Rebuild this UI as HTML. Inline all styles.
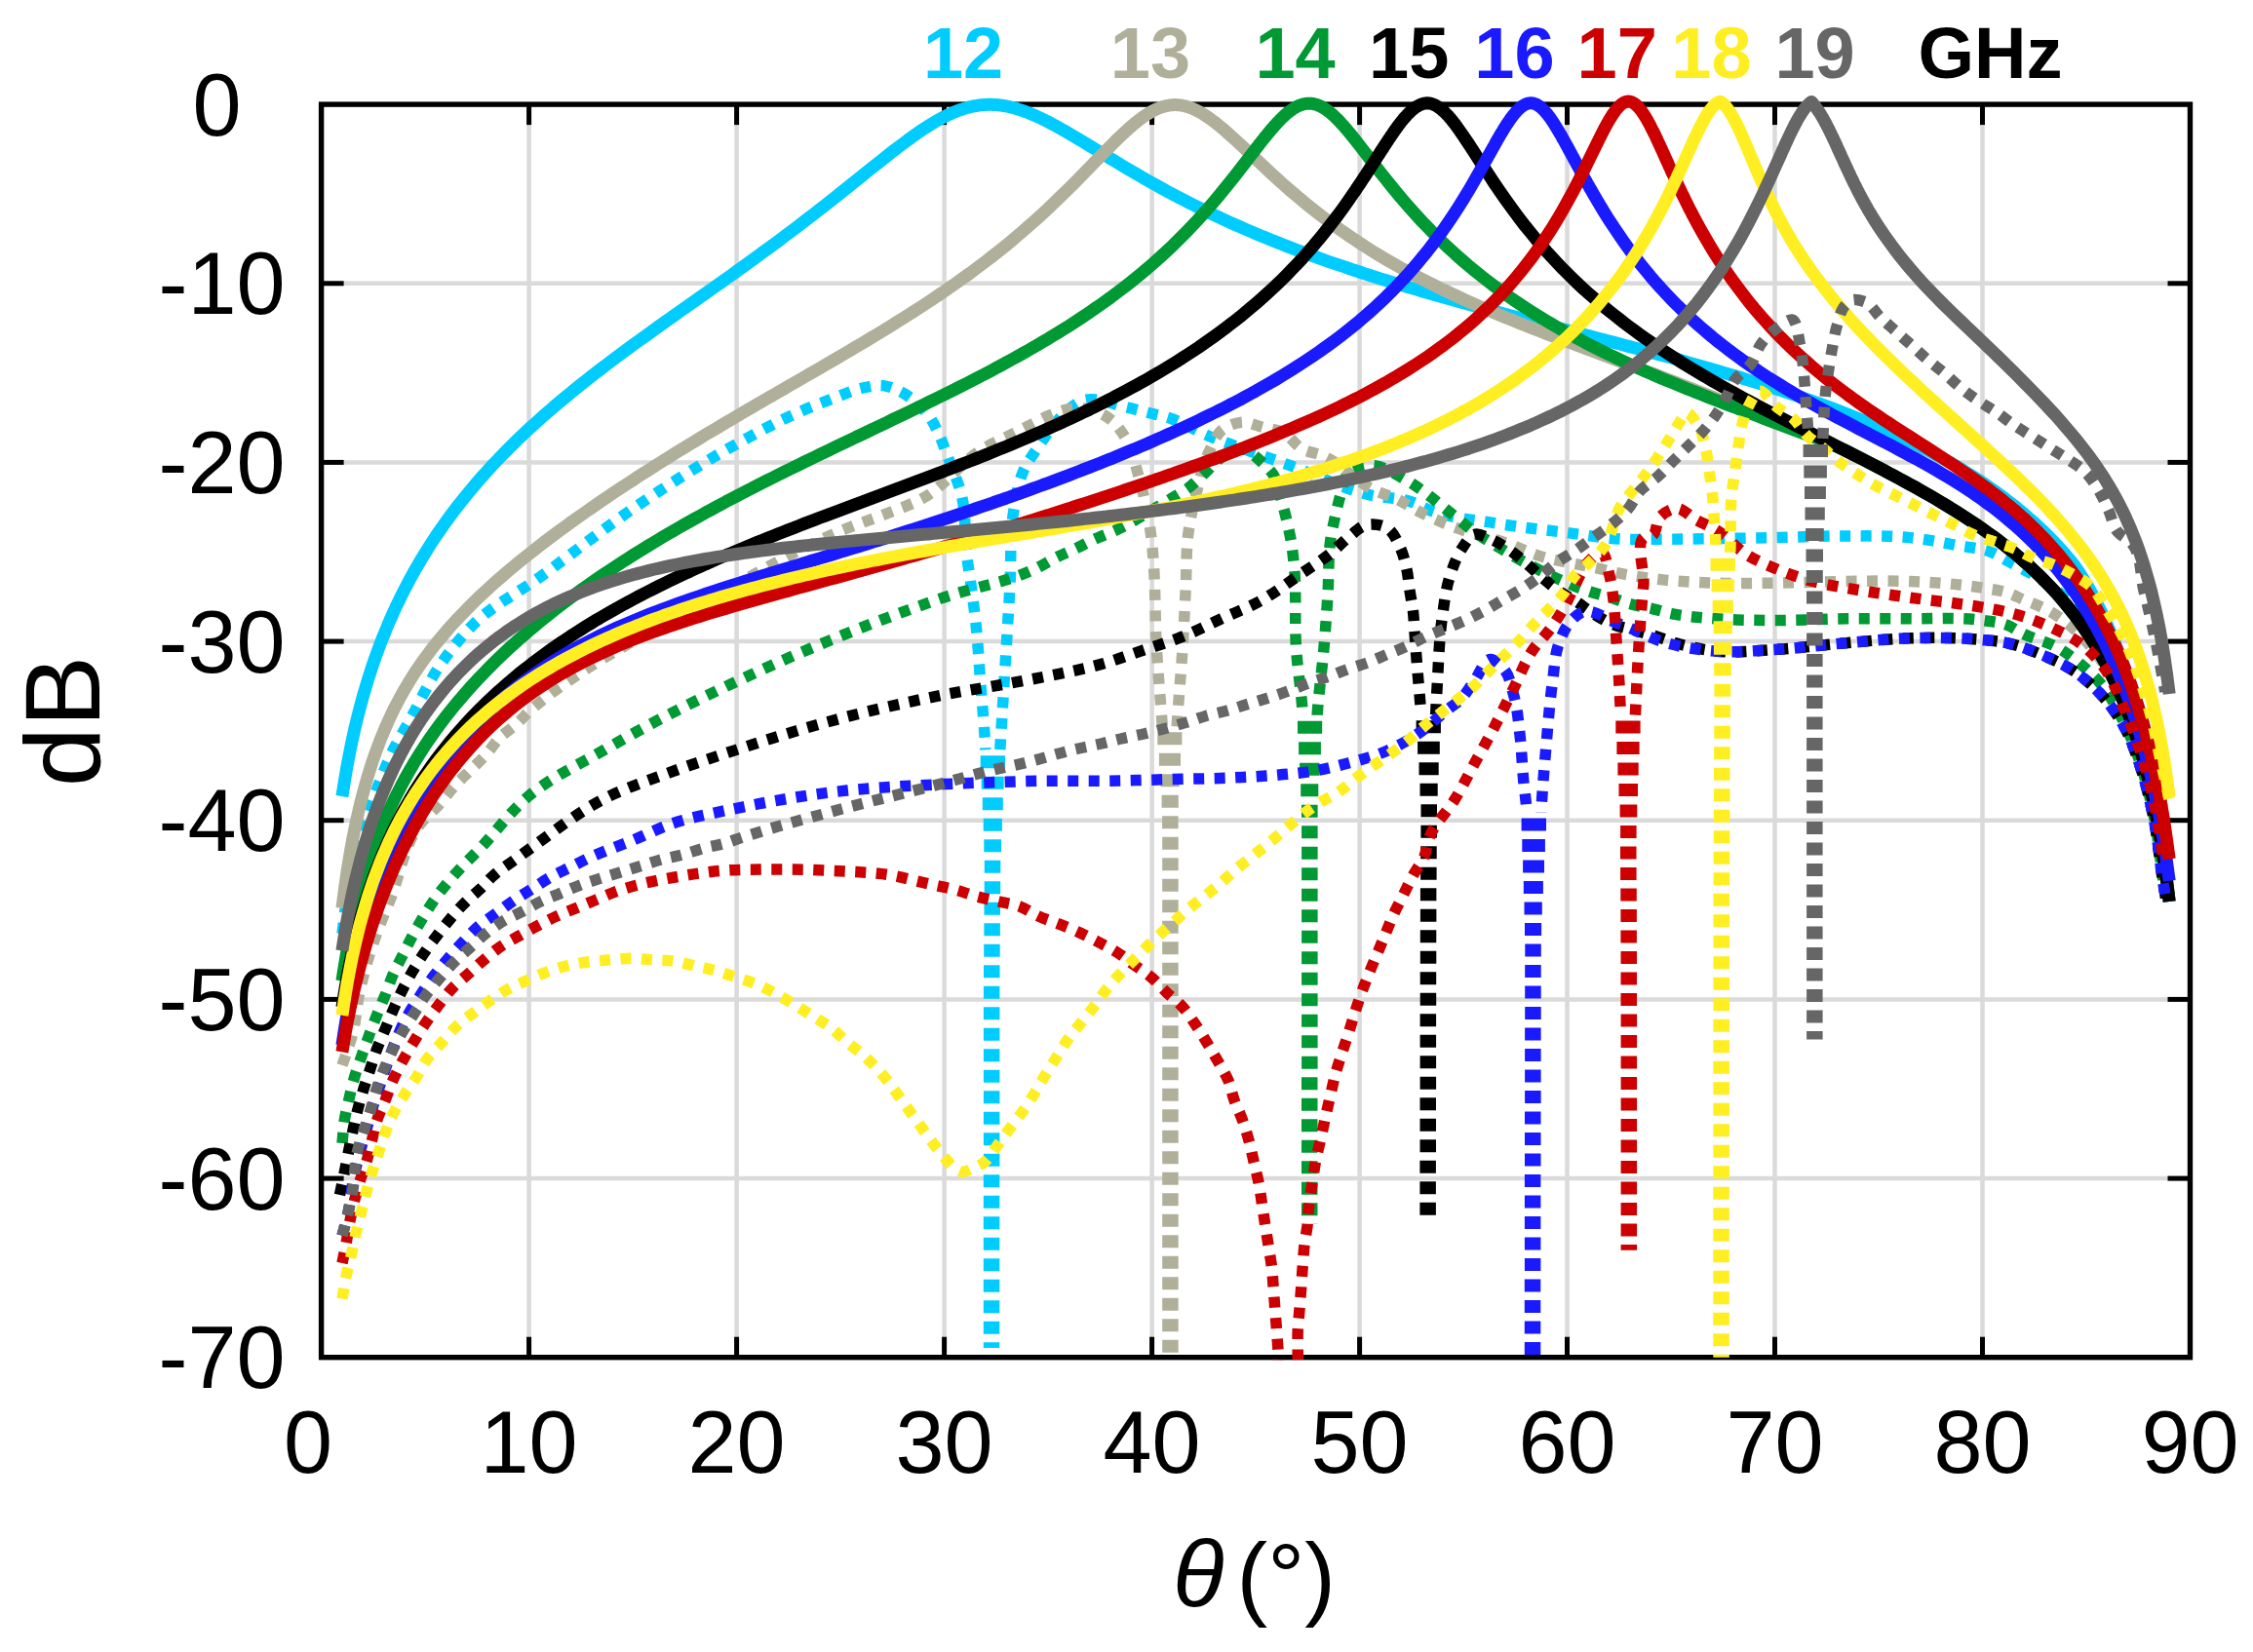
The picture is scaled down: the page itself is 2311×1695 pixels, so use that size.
<!DOCTYPE html>
<html><head><meta charset="utf-8"><title>Radiation patterns</title>
<style>html,body{margin:0;padding:0;background:#fff}svg{display:block}text{font-family:"Liberation Sans",sans-serif}</style></head><body>
<svg xmlns="http://www.w3.org/2000/svg" width="2311" height="1695" viewBox="0 0 2311 1695">
<rect width="2311" height="1695" fill="#fff"/>
<defs><clipPath id="cp"><rect x="327.6" y="95.1" width="1920.9" height="1300.1"/></clipPath></defs>
<g stroke="#dadada" stroke-width="4.5" fill="none"><line x1="542.6" y1="107.1" x2="542.6" y2="1392.7"/><line x1="755.6" y1="107.1" x2="755.6" y2="1392.7"/><line x1="968.6" y1="107.1" x2="968.6" y2="1392.7"/><line x1="1181.6" y1="107.1" x2="1181.6" y2="1392.7"/><line x1="1394.6" y1="107.1" x2="1394.6" y2="1392.7"/><line x1="1607.5" y1="107.1" x2="1607.5" y2="1392.7"/><line x1="1820.5" y1="107.1" x2="1820.5" y2="1392.7"/><line x1="2033.5" y1="107.1" x2="2033.5" y2="1392.7"/><line x1="329.6" y1="290.8" x2="2246.5" y2="290.8"/><line x1="329.6" y1="474.4" x2="2246.5" y2="474.4"/><line x1="329.6" y1="658.1" x2="2246.5" y2="658.1"/><line x1="329.6" y1="841.7" x2="2246.5" y2="841.7"/><line x1="329.6" y1="1025.4" x2="2246.5" y2="1025.4"/><line x1="329.6" y1="1209.1" x2="2246.5" y2="1209.1"/></g>
<g stroke="#000" stroke-width="5" fill="none"><line x1="542.6" y1="107.1" x2="542.6" y2="128.1"/><line x1="542.6" y1="1392.7" x2="542.6" y2="1371.7"/><line x1="755.6" y1="107.1" x2="755.6" y2="128.1"/><line x1="755.6" y1="1392.7" x2="755.6" y2="1371.7"/><line x1="968.6" y1="107.1" x2="968.6" y2="128.1"/><line x1="968.6" y1="1392.7" x2="968.6" y2="1371.7"/><line x1="1181.6" y1="107.1" x2="1181.6" y2="128.1"/><line x1="1181.6" y1="1392.7" x2="1181.6" y2="1371.7"/><line x1="1394.6" y1="107.1" x2="1394.6" y2="128.1"/><line x1="1394.6" y1="1392.7" x2="1394.6" y2="1371.7"/><line x1="1607.5" y1="107.1" x2="1607.5" y2="128.1"/><line x1="1607.5" y1="1392.7" x2="1607.5" y2="1371.7"/><line x1="1820.5" y1="107.1" x2="1820.5" y2="128.1"/><line x1="1820.5" y1="1392.7" x2="1820.5" y2="1371.7"/><line x1="2033.5" y1="107.1" x2="2033.5" y2="128.1"/><line x1="2033.5" y1="1392.7" x2="2033.5" y2="1371.7"/><line x1="329.6" y1="290.8" x2="352.6" y2="290.8"/><line x1="2246.5" y1="290.8" x2="2223.5" y2="290.8"/><line x1="329.6" y1="474.4" x2="352.6" y2="474.4"/><line x1="2246.5" y1="474.4" x2="2223.5" y2="474.4"/><line x1="329.6" y1="658.1" x2="352.6" y2="658.1"/><line x1="2246.5" y1="658.1" x2="2223.5" y2="658.1"/><line x1="329.6" y1="841.7" x2="352.6" y2="841.7"/><line x1="2246.5" y1="841.7" x2="2223.5" y2="841.7"/><line x1="329.6" y1="1025.4" x2="352.6" y2="1025.4"/><line x1="2246.5" y1="1025.4" x2="2223.5" y2="1025.4"/><line x1="329.6" y1="1209.1" x2="352.6" y2="1209.1"/><line x1="2246.5" y1="1209.1" x2="2223.5" y2="1209.1"/></g>
<rect x="329.6" y="107.1" width="1916.9" height="1285.6" fill="none" stroke="#000" stroke-width="5.4"/>
<g clip-path="url(#cp)" fill="none" stroke-linejoin="round">
<path d="M350.9 817.1 L353.6 800.2 L356.2 784.9 L358.9 771.0 L361.5 758.2 L364.2 746.3 L366.9 735.3 L369.5 724.9 L372.2 715.1 L374.9 705.9 L377.5 697.1 L380.2 688.7 L382.8 680.7 L385.5 673.1 L388.2 665.8 L390.8 658.7 L393.5 652.0 L396.2 645.4 L398.8 639.1 L401.5 633.0 L404.1 627.1 L406.8 621.3 L409.5 615.8 L412.1 610.4 L414.8 605.1 L417.5 599.9 L420.1 594.9 L422.8 590.1 L425.4 585.3 L428.1 580.7 L430.8 576.1 L433.4 571.7 L436.1 567.3 L441.4 558.9 L446.7 550.8 L452.1 543.0 L457.4 535.4 L462.7 528.2 L468.0 521.1 L473.4 514.3 L478.7 507.7 L484.0 501.3 L489.3 495.0 L494.7 488.9 L500.0 483.0 L505.3 477.2 L510.6 471.6 L516.0 466.0 L521.3 460.7 L526.6 455.4 L531.9 450.2 L537.3 445.1 L542.6 440.1 L547.9 435.3 L553.2 430.5 L558.6 425.7 L563.9 421.1 L569.2 416.5 L574.5 412.0 L579.9 407.6 L585.2 403.2 L590.5 398.9 L595.8 394.6 L601.2 390.4 L606.5 386.2 L611.8 382.0 L617.1 378.0 L622.5 373.9 L627.8 369.9 L633.1 365.9 L638.4 362.0 L643.8 358.0 L649.1 354.1 L654.4 350.3 L659.7 346.4 L665.1 342.6 L670.4 338.7 L675.7 334.9 L681.0 331.1 L686.4 327.4 L691.7 323.6 L697.0 319.8 L702.3 316.1 L707.7 312.3 L713.0 308.6 L718.3 304.8 L723.6 301.1 L729.0 297.3 L734.3 293.5 L739.6 289.8 L744.9 286.0 L750.3 282.2 L755.6 278.4 L760.9 274.6 L766.2 270.7 L771.6 266.9 L776.9 263.0 L782.2 259.1 L787.5 255.2 L792.9 251.3 L798.2 247.4 L803.5 243.4 L808.8 239.4 L814.2 235.4 L819.5 231.3 L824.8 227.3 L830.1 223.2 L835.5 219.1 L840.8 214.9 L846.1 210.8 L851.4 206.6 L856.8 202.4 L862.1 198.1 L867.4 193.9 L872.7 189.6 L878.0 185.4 L883.4 181.1 L888.7 176.8 L894.0 172.5 L899.3 168.3 L904.7 164.1 L910.0 159.9 L915.3 155.7 L920.6 151.6 L926.0 147.6 L931.3 143.6 L936.6 139.8 L941.9 136.0 L947.3 132.4 L952.6 129.0 L957.9 125.7 L963.2 122.7 L968.6 119.8 L973.9 117.2 L979.2 114.9 L984.5 112.8 L985.3 112.6 L986.4 112.2 L987.4 111.9 L988.5 111.5 L989.6 111.2 L989.9 111.1 L990.6 110.9 L991.7 110.6 L992.8 110.3 L993.8 110.0 L994.9 109.8 L995.2 109.7 L996.0 109.5 L997.0 109.3 L998.1 109.0 L999.2 108.8 L1000.2 108.6 L1000.5 108.6 L1001.3 108.5 L1002.4 108.3 L1003.4 108.1 L1004.5 108.0 L1005.5 107.9 L1005.8 107.8 L1006.6 107.7 L1007.7 107.6 L1008.7 107.5 L1009.8 107.5 L1010.9 107.4 L1011.2 107.4 L1011.9 107.4 L1013.0 107.3 L1014.1 107.3 L1015.1 107.3 L1016.2 107.3 L1016.5 107.3 L1017.3 107.3 L1018.3 107.4 L1019.4 107.4 L1020.5 107.5 L1021.5 107.5 L1021.8 107.6 L1022.6 107.6 L1023.6 107.7 L1024.7 107.8 L1025.8 107.9 L1026.8 108.1 L1027.1 108.1 L1027.9 108.2 L1029.0 108.4 L1030.0 108.6 L1031.1 108.7 L1032.2 108.9 L1032.5 109.0 L1033.2 109.2 L1034.3 109.4 L1035.4 109.6 L1036.4 109.9 L1037.5 110.1 L1037.8 110.2 L1038.6 110.4 L1039.6 110.6 L1040.7 110.9 L1041.8 111.2 L1042.8 111.5 L1043.1 111.6 L1043.9 111.9 L1044.9 112.2 L1046.0 112.5 L1047.1 112.9 L1048.1 113.2 L1048.4 113.3 L1049.2 113.6 L1050.3 114.0 L1051.3 114.4 L1052.4 114.8 L1053.5 115.2 L1053.8 115.3 L1054.5 115.6 L1055.6 116.0 L1056.7 116.5 L1057.7 116.9 L1058.8 117.3 L1059.1 117.5 L1059.9 117.8 L1060.9 118.3 L1062.0 118.7 L1063.1 119.2 L1064.1 119.7 L1064.4 119.8 L1065.2 120.2 L1066.2 120.7 L1067.3 121.2 L1068.4 121.7 L1069.4 122.2 L1069.7 122.3 L1070.5 122.7 L1071.6 123.3 L1072.6 123.8 L1073.7 124.3 L1074.8 124.9 L1075.1 125.0 L1075.8 125.4 L1076.9 126.0 L1078.0 126.5 L1079.0 127.1 L1080.1 127.7 L1080.4 127.8 L1081.2 128.2 L1082.2 128.8 L1083.3 129.4 L1084.4 130.0 L1085.4 130.6 L1085.7 130.7 L1086.5 131.2 L1087.5 131.8 L1088.6 132.4 L1089.7 133.0 L1090.7 133.6 L1091.0 133.7 L1096.4 136.8 L1101.7 140.0 L1107.0 143.1 L1112.3 146.3 L1117.7 149.6 L1123.0 152.8 L1128.3 156.1 L1133.6 159.3 L1139.0 162.6 L1144.3 165.8 L1149.6 169.0 L1154.9 172.2 L1160.3 175.3 L1165.6 178.4 L1170.9 181.5 L1176.2 184.6 L1181.6 187.6 L1186.9 190.5 L1192.2 193.5 L1197.5 196.4 L1202.9 199.2 L1208.2 202.1 L1213.5 204.8 L1218.8 207.6 L1224.2 210.3 L1229.5 212.9 L1234.8 215.5 L1240.1 218.1 L1245.5 220.7 L1250.8 223.2 L1256.1 225.6 L1261.4 228.1 L1266.8 230.5 L1272.1 232.8 L1277.4 235.1 L1282.7 237.4 L1288.1 239.7 L1293.4 241.9 L1298.7 244.1 L1304.0 246.3 L1309.4 248.4 L1314.7 250.5 L1320.0 252.6 L1325.3 254.6 L1330.7 256.7 L1336.0 258.7 L1341.3 260.6 L1346.6 262.6 L1352.0 264.5 L1357.3 266.4 L1362.6 268.3 L1367.9 270.1 L1373.3 271.9 L1378.6 273.7 L1383.9 275.5 L1389.2 277.3 L1394.6 279.0 L1399.9 280.8 L1405.2 282.5 L1410.5 284.2 L1415.8 285.9 L1421.2 287.5 L1426.5 289.2 L1431.8 290.8 L1437.1 292.4 L1442.5 294.0 L1447.8 295.6 L1453.1 297.1 L1458.4 298.7 L1463.8 300.2 L1469.1 301.8 L1474.4 303.3 L1479.7 304.8 L1485.1 306.3 L1490.4 307.8 L1495.7 309.3 L1501.0 310.7 L1506.4 312.2 L1511.7 313.7 L1517.0 315.1 L1522.3 316.6 L1527.7 318.0 L1533.0 319.4 L1538.3 320.8 L1543.6 322.2 L1549.0 323.7 L1554.3 325.1 L1559.6 326.5 L1564.9 327.9 L1570.3 329.2 L1575.6 330.6 L1580.9 332.0 L1586.2 333.4 L1591.6 334.8 L1596.9 336.2 L1602.2 337.5 L1607.5 338.9 L1612.9 340.3 L1618.2 341.7 L1623.5 343.1 L1628.8 344.4 L1634.2 345.8 L1639.5 347.2 L1644.8 348.6 L1650.1 350.0 L1655.5 351.4 L1660.8 352.8 L1666.1 354.2 L1671.4 355.6 L1676.8 357.0 L1682.1 358.4 L1687.4 359.8 L1692.7 361.2 L1698.1 362.7 L1703.4 364.1 L1708.7 365.6 L1714.0 367.0 L1719.4 368.5 L1724.7 369.9 L1730.0 371.4 L1735.3 372.9 L1740.7 374.4 L1746.0 375.9 L1751.3 377.4 L1756.6 379.0 L1762.0 380.5 L1767.3 382.1 L1772.6 383.7 L1777.9 385.2 L1783.3 386.8 L1788.6 388.5 L1793.9 390.1 L1799.2 391.7 L1804.6 393.4 L1809.9 395.1 L1815.2 396.8 L1820.5 398.5 L1825.9 400.2 L1831.2 402.0 L1836.5 403.8 L1841.8 405.6 L1847.2 407.4 L1852.5 409.3 L1857.8 411.2 L1863.1 413.1 L1868.5 415.0 L1873.8 416.9 L1879.1 418.9 L1884.4 420.9 L1889.8 423.0 L1895.1 425.0 L1900.4 427.2 L1905.7 429.3 L1911.1 431.5 L1916.4 433.7 L1921.7 435.9 L1927.0 438.2 L1932.3 440.5 L1937.7 442.9 L1943.0 445.3 L1948.3 447.8 L1953.6 450.3 L1959.0 452.9 L1964.3 455.5 L1969.6 458.1 L1974.9 460.8 L1980.3 463.6 L1985.6 466.4 L1990.9 469.3 L1996.2 472.3 L2001.6 475.3 L2006.9 478.4 L2012.2 481.6 L2017.5 484.9 L2022.9 488.2 L2028.2 491.6 L2033.5 495.1 L2038.8 498.8 L2044.2 502.5 L2049.5 506.3 L2054.8 510.2 L2060.1 514.3 L2065.5 518.4 L2070.8 522.7 L2076.1 527.2 L2081.4 531.8 L2086.8 536.5 L2092.1 541.4 L2097.4 546.5 L2102.7 551.8 L2108.1 557.3 L2113.4 563.1 L2118.7 569.1 L2124.0 575.4 L2129.4 582.5 L2134.7 590.3 L2140.0 598.9 L2142.7 603.5 L2145.3 608.3 L2148.0 613.3 L2150.7 618.5 L2153.3 623.8 L2156.0 629.4 L2158.7 635.3 L2161.3 641.2 L2164.0 647.3 L2166.6 653.6 L2169.3 660.1 L2172.0 666.7 L2174.6 673.4 L2177.3 680.1 L2180.0 686.9 L2182.6 693.9 L2185.3 701.2 L2187.9 708.9 L2190.6 716.9 L2193.3 725.3 L2195.9 734.1 L2198.6 743.4 L2201.2 753.2 L2203.9 763.6 L2206.6 774.7 L2209.2 786.5 L2211.9 799.2 L2214.6 812.8 L2217.2 827.6" stroke="#00ccff" stroke-width="13"/>
<path d="M351.0 958.0 C352.9 944.0 354.2 930.0 356.6 916.1 C360.0 897.0 364.6 878.1 369.9 859.5 C374.8 842.7 380.4 826.0 386.6 809.6 C391.7 796.1 396.9 782.6 403.2 769.6 C408.3 759.4 414.3 749.7 419.9 739.7 C431.0 719.7 440.1 698.4 453.2 679.8 C463.1 665.7 474.2 651.8 486.4 639.8 C505.7 620.9 530.9 608.5 553.0 592.7 C586.6 568.6 618.7 542.5 652.9 519.4 C685.9 497.1 719.6 475.5 754.4 456.2 C775.7 444.4 797.1 432.6 819.3 422.9 C830.3 418.1 841.4 413.8 852.6 409.6 C863.6 405.5 874.4 400.2 885.9 397.9 C892.4 396.6 899.4 394.8 905.9 395.6 C911.6 396.3 917.3 398.7 922.5 401.3 C927.2 403.5 931.7 406.4 935.8 409.6 C942.1 414.3 947.8 420.0 952.5 426.2 C957.3 432.7 960.7 440.4 964.1 447.9 C967.3 454.9 969.7 462.3 972.5 469.5 C977.0 481.6 982.5 493.6 985.8 506.1 C991.4 527.6 989.1 550.8 992.0 573.0 C993.2 582.0 994.7 591.0 996.0 600.0 C997.8 613.3 999.6 626.6 1001.0 640.0 C1003.1 659.9 1004.2 680.0 1005.7 700.0 C1007.4 722.0 1009.6 744.0 1010.7 766.0 C1010.8 767.1 1010.8 768.2 1010.9 769.2" stroke="#00ccff" stroke-width="11.5" stroke-dasharray="11 10.5"/>
<path d="M1005.7 775.2h25.3v13.0h-25.3zM1006.7 796.7h23.0v13.0h-23.0zM1007.8 818.2h21.0v13.0h-21.0zM1008.7 839.7h19.2v13.0h-19.2zM1009.3 861.2h17.7v13.0h-17.7zM1009.8 882.7h16.5v13.0h-16.5zM1009.7 904.2h16.5v13.0h-16.5zM1009.5 925.7h16.5v13.0h-16.5zM1009.4 947.2h16.5v13.0h-16.5zM1009.2 968.7h16.5v13.0h-16.5zM1009.0 990.2h16.5v13.0h-16.5zM1008.9 1011.7h16.5v13.0h-16.5zM1008.9 1033.2h16.5v13.0h-16.5zM1008.9 1054.7h16.5v13.0h-16.5zM1008.9 1076.2h16.5v13.0h-16.5zM1008.9 1097.7h16.5v13.0h-16.5zM1008.9 1119.2h16.5v13.0h-16.5zM1008.9 1140.7h16.5v13.0h-16.5zM1008.9 1162.2h16.5v13.0h-16.5zM1008.9 1183.7h16.5v13.0h-16.5zM1008.8 1205.2h16.5v13.0h-16.5zM1008.8 1226.7h16.5v13.0h-16.5zM1008.8 1248.2h16.5v13.0h-16.5zM1008.8 1269.7h16.5v13.0h-16.5zM1008.8 1291.2h16.5v13.0h-16.5zM1008.8 1312.7h16.5v13.0h-16.5zM1008.8 1334.2h16.5v13.0h-16.5zM1008.8 1355.7h16.5v13.0h-16.5zM1008.8 1377.2h16.5v5.8h-16.5z" fill="#00ccff" stroke="none"/>
<path d="M1025.8 769.2 C1027.2 746.2 1028.6 723.1 1030.0 700.0 C1032.0 666.7 1034.2 633.3 1036.0 600.0 C1037.4 574.3 1035.5 548.2 1040.0 523.0 C1042.4 509.5 1044.3 495.2 1049.9 482.8 C1054.2 473.4 1060.7 464.8 1066.6 456.2 C1072.8 447.0 1078.8 437.4 1086.6 429.5 C1093.5 422.6 1101.3 414.4 1109.9 411.2 C1123.5 406.2 1141.2 414.8 1156.6 418.2 C1163.7 419.7 1170.8 421.7 1177.9 423.5 C1185.0 425.3 1192.2 426.7 1199.2 428.8 C1213.4 433.3 1226.2 441.9 1240.1 447.5 C1247.1 450.3 1254.3 452.9 1261.4 455.5 C1282.0 463.1 1302.8 470.2 1323.5 477.7 C1350.8 487.6 1377.1 501.4 1405.2 507.9 C1419.2 511.1 1434.4 510.1 1447.9 515.0 C1454.1 517.2 1459.9 520.9 1466.0 523.3 C1487.0 531.6 1510.3 532.9 1532.6 536.6 C1557.4 540.8 1582.5 543.5 1607.5 546.6 C1626.9 549.0 1646.3 552.6 1665.8 553.3 C1674.9 553.6 1684.0 553.3 1693.2 553.3 C1735.7 553.2 1778.2 552.4 1820.7 551.6 C1844.7 551.1 1868.8 549.9 1892.9 549.9 C1915.1 550.0 1937.4 549.3 1959.5 551.6 C1976.2 553.4 1992.8 556.8 2009.4 559.9 C2020.5 562.0 2032.3 562.4 2042.7 566.6 C2049.1 569.1 2054.9 573.2 2061.1 576.5 C2071.6 582.3 2082.6 587.5 2092.6 594.0 C2102.4 600.4 2111.9 607.4 2120.7 615.1 C2129.4 622.7 2137.9 630.8 2145.3 639.6 C2153.3 649.4 2160.3 660.2 2166.3 671.2 C2173.6 684.5 2178.7 699.1 2183.9 713.3 C2189.3 728.3 2193.7 743.6 2197.9 758.9 C2202.6 776.3 2206.7 793.9 2210.2 811.6 C2214.6 833.6 2217.2 856.0 2220.7 878.2" stroke="#00ccff" stroke-width="11.5" stroke-dasharray="11 10.5"/>
<path d="M350.9 931.9 L353.6 911.3 L356.2 893.1 L358.9 876.8 L361.5 862.1 L364.2 848.7 L366.9 836.4 L369.5 825.1 L372.2 814.6 L374.9 804.8 L377.5 795.7 L380.2 787.2 L382.8 779.1 L385.5 771.5 L388.2 764.3 L390.8 757.4 L393.5 750.9 L396.2 744.7 L398.8 738.8 L401.5 733.1 L404.1 727.6 L406.8 722.4 L409.5 717.3 L412.1 712.5 L414.8 707.8 L417.5 703.2 L420.1 698.8 L422.8 694.6 L425.4 690.4 L428.1 686.4 L430.8 682.5 L433.4 678.7 L436.1 675.0 L441.4 667.8 L446.7 661.0 L452.1 654.5 L457.4 648.2 L462.7 642.1 L468.0 636.3 L473.4 630.7 L478.7 625.2 L484.0 619.9 L489.3 614.7 L494.7 609.6 L500.0 604.7 L505.3 599.8 L510.6 595.1 L516.0 590.5 L521.3 585.9 L526.6 581.5 L531.9 577.1 L537.3 572.7 L542.6 568.5 L547.9 564.3 L553.2 560.1 L558.6 556.0 L563.9 552.0 L569.2 548.0 L574.5 544.1 L579.9 540.2 L585.2 536.3 L590.5 532.5 L595.8 528.7 L601.2 525.0 L606.5 521.3 L611.8 517.6 L617.1 513.9 L622.5 510.3 L627.8 506.7 L633.1 503.2 L638.4 499.6 L643.8 496.1 L649.1 492.7 L654.4 489.2 L659.7 485.8 L665.1 482.4 L670.4 479.0 L675.7 475.6 L681.0 472.3 L686.4 468.9 L691.7 465.6 L697.0 462.3 L702.3 459.1 L707.7 455.8 L713.0 452.6 L718.3 449.4 L723.6 446.1 L729.0 442.9 L734.3 439.8 L739.6 436.6 L744.9 433.4 L750.3 430.3 L755.6 427.2 L760.9 424.0 L766.2 420.9 L771.6 417.8 L776.9 414.7 L782.2 411.6 L787.5 408.5 L792.9 405.5 L798.2 402.4 L803.5 399.3 L808.8 396.2 L814.2 393.1 L819.5 390.1 L824.8 387.0 L830.1 383.9 L835.5 380.8 L840.8 377.8 L846.1 374.7 L851.4 371.6 L856.8 368.5 L862.1 365.4 L867.4 362.2 L872.7 359.1 L878.0 355.9 L883.4 352.8 L888.7 349.6 L894.0 346.4 L899.3 343.2 L904.7 340.0 L910.0 336.7 L915.3 333.4 L920.6 330.1 L926.0 326.8 L931.3 323.4 L936.6 320.0 L941.9 316.6 L947.3 313.1 L952.6 309.6 L957.9 306.1 L963.2 302.5 L968.6 298.9 L973.9 295.2 L979.2 291.5 L984.5 287.7 L989.9 283.9 L995.2 280.1 L1000.5 276.1 L1005.8 272.1 L1011.2 268.1 L1016.5 264.0 L1021.8 259.8 L1027.1 255.6 L1032.5 251.3 L1037.8 246.9 L1043.1 242.4 L1048.4 237.9 L1053.8 233.2 L1059.1 228.5 L1064.4 223.8 L1069.7 218.9 L1075.1 214.0 L1080.4 208.9 L1085.7 203.8 L1091.0 198.6 L1096.4 193.4 L1101.7 188.1 L1107.0 182.7 L1112.3 177.3 L1117.7 171.8 L1123.0 166.3 L1126.9 162.3 L1128.0 161.2 L1128.3 160.8 L1129.0 160.1 L1130.1 159.0 L1131.2 157.9 L1132.2 156.8 L1133.3 155.7 L1133.6 155.4 L1134.4 154.6 L1135.4 153.5 L1136.5 152.5 L1137.6 151.4 L1138.6 150.3 L1139.0 150.0 L1139.7 149.2 L1140.8 148.2 L1141.8 147.1 L1142.9 146.0 L1143.9 145.0 L1144.3 144.7 L1145.0 143.9 L1146.1 142.9 L1147.1 141.9 L1148.2 140.8 L1149.3 139.8 L1149.6 139.5 L1150.3 138.8 L1151.4 137.8 L1152.5 136.8 L1153.5 135.8 L1154.6 134.8 L1154.9 134.5 L1155.7 133.8 L1156.7 132.9 L1157.8 131.9 L1158.9 131.0 L1159.9 130.0 L1160.3 129.7 L1161.0 129.1 L1162.1 128.2 L1163.1 127.3 L1164.2 126.4 L1165.2 125.5 L1165.6 125.3 L1166.3 124.7 L1167.4 123.9 L1168.4 123.0 L1169.5 122.2 L1170.6 121.4 L1170.9 121.2 L1171.6 120.6 L1172.7 119.9 L1173.8 119.2 L1174.8 118.4 L1175.9 117.7 L1176.2 117.5 L1177.0 117.0 L1178.0 116.4 L1179.1 115.7 L1180.2 115.1 L1181.2 114.5 L1181.6 114.3 L1182.3 113.9 L1183.3 113.4 L1184.4 112.9 L1185.5 112.3 L1186.5 111.9 L1186.9 111.7 L1187.6 111.4 L1188.7 111.0 L1189.7 110.6 L1190.8 110.2 L1191.9 109.8 L1192.2 109.7 L1192.9 109.5 L1194.0 109.2 L1195.1 108.9 L1196.1 108.6 L1197.2 108.4 L1197.5 108.4 L1198.3 108.2 L1199.3 108.1 L1200.4 107.9 L1201.5 107.8 L1202.5 107.7 L1202.9 107.7 L1203.6 107.6 L1204.6 107.6 L1205.7 107.6 L1206.8 107.6 L1207.8 107.7 L1208.2 107.7 L1208.9 107.8 L1210.0 107.9 L1211.0 108.0 L1212.1 108.2 L1213.2 108.4 L1213.5 108.4 L1214.2 108.6 L1215.3 108.8 L1216.4 109.1 L1217.4 109.4 L1218.5 109.7 L1218.8 109.8 L1219.6 110.0 L1220.6 110.4 L1221.7 110.8 L1222.8 111.2 L1223.8 111.7 L1224.2 111.8 L1224.9 112.1 L1225.9 112.6 L1227.0 113.1 L1228.1 113.6 L1229.1 114.2 L1229.5 114.4 L1230.2 114.8 L1231.3 115.4 L1232.3 116.0 L1234.8 117.5 L1240.1 121.0 L1245.5 124.9 L1250.8 129.2 L1256.1 133.6 L1261.4 138.3 L1266.8 143.2 L1272.1 148.1 L1277.4 153.1 L1282.7 158.1 L1288.1 163.1 L1293.4 168.1 L1298.7 173.1 L1304.0 178.0 L1309.4 182.9 L1314.7 187.7 L1320.0 192.4 L1325.3 197.0 L1330.7 201.5 L1336.0 206.0 L1341.3 210.4 L1346.6 214.6 L1352.0 218.8 L1357.3 222.9 L1362.6 226.9 L1367.9 230.8 L1373.3 234.7 L1378.6 238.4 L1383.9 242.1 L1389.2 245.7 L1394.6 249.2 L1399.9 252.7 L1405.2 256.1 L1410.5 259.4 L1415.8 262.6 L1421.2 265.8 L1426.5 268.9 L1431.8 271.9 L1437.1 274.9 L1442.5 277.8 L1447.8 280.7 L1453.1 283.6 L1458.4 286.3 L1463.8 289.1 L1469.1 291.7 L1474.4 294.4 L1479.7 297.0 L1485.1 299.5 L1490.4 302.0 L1495.7 304.5 L1501.0 307.0 L1506.4 309.4 L1511.7 311.7 L1517.0 314.1 L1522.3 316.4 L1527.7 318.7 L1533.0 320.9 L1538.3 323.2 L1543.6 325.4 L1549.0 327.6 L1554.3 329.7 L1559.6 331.9 L1564.9 334.0 L1570.3 336.1 L1575.6 338.2 L1580.9 340.3 L1586.2 342.3 L1591.6 344.4 L1596.9 346.4 L1602.2 348.5 L1607.5 350.5 L1612.9 352.5 L1618.2 354.5 L1623.5 356.5 L1628.8 358.5 L1634.2 360.5 L1639.5 362.5 L1644.8 364.5 L1650.1 366.4 L1655.5 368.4 L1660.8 370.4 L1666.1 372.4 L1671.4 374.4 L1676.8 376.4 L1682.1 378.4 L1687.4 380.4 L1692.7 382.4 L1698.1 384.4 L1703.4 386.5 L1708.7 388.5 L1714.0 390.6 L1719.4 392.6 L1724.7 394.7 L1730.0 396.8 L1735.3 398.9 L1740.7 401.0 L1746.0 403.1 L1751.3 405.3 L1756.6 407.4 L1762.0 409.6 L1767.3 411.8 L1772.6 414.0 L1777.9 416.2 L1783.3 418.5 L1788.6 420.5 L1793.9 422.5 L1799.2 424.3 L1804.6 426.1 L1809.9 427.9 L1815.2 429.6 L1820.5 431.5 L1825.9 433.3 L1831.2 435.2 L1836.5 437.1 L1841.8 439.1 L1847.2 441.1 L1852.5 443.3 L1857.8 445.5 L1863.1 447.8 L1868.5 450.2 L1873.8 452.7 L1879.1 455.3 L1884.4 458.0 L1889.8 460.7 L1895.1 463.4 L1900.4 466.1 L1905.7 468.8 L1911.1 471.5 L1916.4 474.2 L1921.7 477.0 L1927.0 479.8 L1932.3 482.6 L1937.7 485.4 L1943.0 488.2 L1948.3 491.1 L1953.6 494.0 L1959.0 496.9 L1964.3 499.8 L1969.6 502.8 L1974.9 505.9 L1980.3 508.9 L1985.6 512.0 L1990.9 515.2 L1996.2 518.4 L2001.6 521.7 L2006.9 525.0 L2012.2 528.4 L2017.5 531.9 L2022.9 535.4 L2028.2 539.0 L2033.5 542.7 L2038.8 546.5 L2044.2 550.3 L2049.5 554.3 L2054.8 558.4 L2060.1 562.6 L2065.5 566.9 L2070.8 571.4 L2076.1 576.0 L2081.4 580.7 L2086.8 585.7 L2092.1 590.8 L2097.4 596.1 L2102.7 601.6 L2108.1 607.3 L2113.4 613.3 L2118.7 619.6 L2124.0 626.2 L2129.4 633.1 L2134.7 640.3 L2140.0 648.0 L2142.7 652.0 L2145.3 656.1 L2148.0 660.3 L2150.7 664.7 L2153.3 669.2 L2156.0 673.9 L2158.7 678.7 L2161.3 683.7 L2164.0 688.8 L2166.6 694.2 L2169.3 699.7 L2172.0 705.5 L2174.6 711.5 L2177.3 717.8 L2180.0 724.3 L2182.6 731.2 L2185.3 738.3 L2187.9 745.9 L2190.6 753.8 L2193.3 762.1 L2195.9 770.9 L2198.6 780.2 L2201.2 790.2 L2203.9 800.7 L2206.6 812.0 L2209.2 824.2 L2211.9 837.3 L2214.6 851.6 L2217.2 867.2 L2219.9 884.4 L2222.5 903.5 L2225.2 925.0" stroke="#b0b09a" stroke-width="13"/>
<path d="M351.0 1093.0 C354.7 1081.9 359.1 1071.0 362.0 1059.7 C365.2 1046.7 365.8 1033.0 368.6 1019.8 C371.0 1008.6 373.7 997.5 376.9 986.5 C379.9 976.4 383.3 966.4 386.9 956.5 C391.0 945.3 395.8 934.3 400.2 923.2 C411.0 896.5 414.5 864.9 432.9 843.2 C437.8 837.3 444.2 832.3 449.5 826.6 C455.4 820.2 460.3 813.0 466.1 806.6 C471.4 800.8 477.2 795.5 482.8 789.9 C488.3 784.4 494.2 779.2 499.4 773.3 C504.1 768.0 507.8 761.6 512.7 756.7 C517.7 751.7 524.1 748.1 529.4 743.3 C534.0 739.1 538.1 734.3 542.7 730.0 C549.1 724.1 555.8 718.7 562.7 713.4 C570.2 707.5 578.1 702.1 586.0 696.7 C592.6 692.2 599.2 687.7 606.0 683.4 C611.4 680.0 617.0 676.7 622.6 673.4 C643.7 660.9 664.8 648.4 686.2 636.5 C708.7 623.9 731.7 612.1 754.4 599.9 C776.1 588.2 797.3 575.8 819.3 564.9 C834.7 557.3 850.1 549.8 865.9 543.3 C879.1 537.8 892.7 533.5 905.9 528.3 C919.3 523.0 933.2 518.4 945.8 511.7 C969.9 498.7 986.1 473.0 1010.0 459.5 C1017.5 455.2 1025.5 451.7 1033.3 447.9 C1041.1 444.0 1048.8 440.1 1056.6 436.2 C1063.2 432.9 1069.7 429.0 1076.6 426.2 C1083.0 423.6 1089.7 420.6 1096.5 419.6 C1104.5 418.4 1113.4 418.6 1121.0 420.9 C1128.0 422.9 1135.0 426.8 1140.6 431.5 C1145.9 436.1 1150.2 442.4 1153.9 448.4 C1161.4 460.5 1164.1 475.4 1168.1 489.2 C1174.4 510.9 1178.9 533.4 1181.4 555.8 C1182.2 562.9 1182.7 570.0 1183.2 577.2 C1185.4 606.7 1184.7 636.4 1186.4 666.0 C1187.7 688.4 1189.7 710.7 1191.4 733.0 C1191.7 737.1 1192.0 741.2 1192.3 745.3" stroke="#b0b09a" stroke-width="11.5" stroke-dasharray="11 10.5"/>
<path d="M1187.3 751.3h25.1v13.0h-25.1zM1188.9 772.8h22.1v13.0h-22.1zM1190.5 794.3h19.1v13.0h-19.1zM1191.6 815.8h17.2v13.0h-17.2zM1192.1 837.3h16.5v13.0h-16.5zM1192.2 858.8h16.5v13.0h-16.5zM1192.2 880.3h16.5v13.0h-16.5zM1192.2 901.8h16.5v13.0h-16.5zM1192.2 923.3h16.5v13.0h-16.5zM1192.2 944.8h16.5v13.0h-16.5zM1192.2 966.3h16.5v13.0h-16.5zM1192.2 987.8h16.5v13.0h-16.5zM1192.2 1009.3h16.5v13.0h-16.5zM1192.2 1030.8h16.5v13.0h-16.5zM1192.2 1052.3h16.5v13.0h-16.5zM1192.2 1073.8h16.5v13.0h-16.5zM1192.2 1095.3h16.5v13.0h-16.5zM1192.2 1116.8h16.5v13.0h-16.5zM1192.2 1138.3h16.5v13.0h-16.5zM1192.2 1159.8h16.5v13.0h-16.5zM1192.2 1181.3h16.5v13.0h-16.5zM1192.2 1202.8h16.5v13.0h-16.5zM1192.2 1224.3h16.5v13.0h-16.5zM1192.2 1245.8h16.5v13.0h-16.5zM1192.2 1267.3h16.5v13.0h-16.5zM1192.2 1288.8h16.5v13.0h-16.5zM1192.2 1310.3h16.5v13.0h-16.5zM1192.2 1331.8h16.5v13.0h-16.5zM1192.2 1353.3h16.5v13.0h-16.5zM1192.2 1374.8h16.5v13.0h-16.5z" fill="#b0b09a" stroke="none"/>
<path d="M1207.2 745.3 C1207.5 741.2 1207.7 737.1 1208.0 733.0 C1209.5 710.7 1211.6 688.3 1213.0 666.0 C1214.4 644.0 1215.3 622.0 1216.4 600.0 C1217.2 582.9 1216.6 565.7 1218.7 548.7 C1220.6 533.8 1223.9 518.9 1227.6 504.3 C1231.1 490.6 1233.9 476.2 1240.1 463.5 C1244.0 455.4 1247.4 445.5 1254.3 440.4 C1259.5 436.5 1267.2 433.8 1273.8 433.3 C1281.1 432.8 1288.6 436.8 1296.0 438.6 C1302.8 440.3 1310.3 440.9 1316.4 443.9 C1323.9 447.7 1328.5 456.9 1336.0 460.8 C1341.9 463.9 1349.2 464.6 1355.5 467.0 C1376.5 475.2 1391.6 495.5 1412.3 504.3 C1418.7 507.0 1425.6 508.5 1431.9 511.4 C1438.0 514.3 1443.5 518.4 1449.4 521.6 C1455.9 525.2 1462.6 528.5 1469.4 531.6 C1475.9 534.6 1482.6 537.3 1489.3 539.9 C1509.9 548.0 1532.0 551.9 1552.6 559.9 C1559.3 562.5 1565.8 565.8 1572.6 568.2 C1593.9 576.1 1617.0 578.1 1639.1 583.2 C1646.4 584.9 1653.5 586.7 1660.8 588.2 C1675.6 591.2 1690.7 593.2 1705.7 594.9 C1723.6 596.8 1741.7 597.6 1759.7 598.2 C1780.0 598.9 1800.3 598.4 1820.7 598.2 C1844.7 597.9 1868.8 596.8 1892.9 596.5 C1915.1 596.3 1937.3 595.6 1959.5 596.5 C1984.2 597.6 2009.0 599.2 2033.4 603.2 C2042.1 604.6 2051.0 605.4 2059.3 608.2 C2064.7 610.0 2069.8 612.8 2075.1 615.1 C2083.3 618.6 2091.9 621.4 2099.6 625.6 C2107.0 629.6 2114.1 634.4 2120.7 639.6 C2129.7 646.8 2137.9 655.3 2145.3 664.2 C2153.3 673.9 2160.3 684.7 2166.3 695.8 C2173.6 709.1 2178.5 723.7 2183.9 737.9 C2189.0 751.7 2193.6 765.8 2197.9 780.0 C2203.2 797.4 2208.3 814.9 2211.9 832.6 C2216.4 854.5 2217.8 877.1 2220.7 899.3" stroke="#b0b09a" stroke-width="11.5" stroke-dasharray="11 10.5"/>
<path d="M350.9 1006.5 L353.6 989.5 L356.2 974.2 L358.9 960.3 L361.5 947.6 L364.2 935.8 L366.9 925.0 L369.5 914.8 L372.2 905.2 L374.9 896.2 L377.5 887.7 L380.2 879.6 L382.8 872.0 L385.5 864.6 L388.2 857.6 L390.8 850.9 L393.5 844.4 L396.2 838.2 L398.8 832.2 L401.5 826.4 L404.1 820.8 L406.8 815.4 L409.5 810.2 L412.1 805.1 L414.8 800.1 L417.5 795.3 L420.1 790.6 L422.8 786.1 L425.4 781.6 L428.1 777.3 L430.8 773.0 L433.4 768.9 L436.1 764.8 L441.4 757.0 L446.7 749.5 L452.1 742.2 L457.4 735.2 L462.7 728.5 L468.0 722.0 L473.4 715.7 L478.7 709.6 L484.0 703.6 L489.3 697.8 L494.7 692.2 L500.0 686.7 L505.3 681.4 L510.6 676.2 L516.0 671.1 L521.3 666.1 L526.6 661.2 L531.9 656.4 L537.3 651.8 L542.6 647.2 L547.9 642.7 L553.2 638.3 L558.6 634.0 L563.9 629.7 L569.2 625.5 L574.5 621.4 L579.9 617.4 L585.2 613.4 L590.5 609.5 L595.8 605.6 L601.2 601.8 L606.5 598.0 L611.8 594.3 L617.1 590.7 L622.5 587.1 L627.8 583.6 L633.1 580.1 L638.4 576.6 L643.8 573.2 L649.1 569.8 L654.4 566.5 L659.7 563.2 L665.1 559.9 L670.4 556.7 L675.7 553.5 L681.0 550.3 L686.4 547.2 L691.7 544.1 L697.0 541.0 L702.3 538.0 L707.7 535.0 L713.0 532.0 L718.3 529.1 L723.6 526.1 L729.0 523.2 L734.3 520.3 L739.6 517.5 L744.9 514.6 L750.3 511.8 L755.6 509.0 L760.9 506.3 L766.2 503.5 L771.6 500.8 L776.9 498.0 L782.2 495.3 L787.5 492.6 L792.9 490.0 L798.2 487.3 L803.5 484.7 L808.8 482.0 L814.2 479.4 L819.5 476.8 L824.8 474.2 L830.1 471.6 L835.5 469.0 L840.8 466.4 L846.1 463.8 L851.4 461.3 L856.8 458.7 L862.1 456.2 L867.4 453.6 L872.7 451.1 L878.0 448.5 L883.4 446.0 L888.7 443.5 L894.0 440.9 L899.3 438.4 L904.7 435.8 L910.0 433.3 L915.3 430.7 L920.6 428.2 L926.0 425.6 L931.3 423.1 L936.6 420.5 L941.9 417.9 L947.3 415.3 L952.6 412.7 L957.9 410.1 L963.2 407.5 L968.6 404.9 L973.9 402.2 L979.2 399.6 L984.5 396.9 L989.9 394.2 L995.2 391.5 L1000.5 388.7 L1005.8 386.0 L1011.2 383.2 L1016.5 380.4 L1021.8 377.6 L1027.1 374.7 L1032.5 371.8 L1037.8 368.9 L1043.1 366.0 L1048.4 363.0 L1053.8 360.0 L1059.1 356.9 L1064.4 353.8 L1069.7 350.7 L1075.1 347.6 L1080.4 344.3 L1085.7 341.1 L1091.0 337.8 L1096.4 334.4 L1101.7 331.0 L1107.0 327.5 L1112.3 324.0 L1117.7 320.4 L1123.0 316.7 L1128.3 313.0 L1133.6 309.2 L1139.0 305.4 L1144.3 301.4 L1149.6 297.4 L1154.9 293.3 L1160.3 289.1 L1165.6 284.8 L1170.9 280.4 L1176.2 276.0 L1181.6 271.4 L1186.9 266.7 L1192.2 261.9 L1197.5 256.9 L1202.9 251.9 L1208.2 246.7 L1213.5 241.4 L1218.8 235.9 L1224.2 230.3 L1229.5 224.6 L1234.8 218.7 L1240.1 212.7 L1245.5 206.5 L1250.8 200.2 L1256.1 193.7 L1261.4 187.1 L1266.8 180.4 L1272.1 173.6 L1277.4 166.7 L1277.6 166.5 L1278.7 165.1 L1279.7 163.7 L1280.8 162.3 L1281.9 160.9 L1282.7 159.8 L1282.9 159.5 L1284.0 158.1 L1285.1 156.8 L1286.1 155.4 L1287.2 154.0 L1288.1 152.9 L1288.2 152.6 L1289.3 151.2 L1290.4 149.9 L1291.4 148.5 L1292.5 147.1 L1293.4 146.0 L1293.6 145.8 L1294.6 144.4 L1295.7 143.1 L1296.8 141.8 L1297.8 140.4 L1298.7 139.4 L1298.9 139.1 L1300.0 137.8 L1301.0 136.5 L1302.1 135.2 L1303.2 134.0 L1304.0 132.9 L1304.2 132.7 L1305.3 131.5 L1306.4 130.2 L1307.4 129.0 L1308.5 127.8 L1309.4 126.9 L1309.5 126.7 L1310.6 125.5 L1311.7 124.4 L1312.7 123.3 L1313.8 122.2 L1314.7 121.3 L1314.9 121.2 L1315.9 120.1 L1317.0 119.1 L1318.1 118.1 L1319.1 117.2 L1320.0 116.4 L1320.2 116.3 L1321.3 115.4 L1322.3 114.6 L1323.4 113.7 L1324.5 113.0 L1325.3 112.3 L1325.5 112.2 L1326.6 111.5 L1327.6 110.9 L1328.7 110.2 L1329.8 109.6 L1330.7 109.2 L1330.8 109.1 L1331.9 108.6 L1333.0 108.2 L1334.0 107.7 L1335.1 107.4 L1336.0 107.1 L1336.2 107.1 L1337.2 106.8 L1338.3 106.6 L1339.4 106.4 L1340.4 106.3 L1341.3 106.2 L1341.5 106.2 L1342.6 106.2 L1343.6 106.2 L1344.7 106.2 L1345.8 106.4 L1346.6 106.5 L1346.8 106.5 L1347.9 106.7 L1348.9 107.0 L1350.0 107.3 L1351.1 107.6 L1352.0 107.9 L1352.1 108.0 L1353.2 108.5 L1354.3 108.9 L1355.3 109.5 L1356.4 110.0 L1357.3 110.5 L1357.5 110.6 L1358.5 111.3 L1359.6 112.0 L1360.7 112.7 L1361.7 113.5 L1362.6 114.1 L1362.8 114.3 L1363.9 115.1 L1364.9 116.0 L1366.0 116.9 L1367.1 117.8 L1367.9 118.6 L1368.1 118.8 L1369.2 119.8 L1370.2 120.8 L1371.3 121.9 L1372.4 122.9 L1373.3 123.8 L1373.4 124.0 L1374.5 125.2 L1375.6 126.3 L1376.6 127.5 L1377.7 128.6 L1378.6 129.6 L1378.8 129.9 L1379.8 131.1 L1380.9 132.3 L1382.0 133.6 L1383.0 134.8 L1383.9 135.9 L1389.2 142.4 L1394.6 149.2 L1399.9 156.1 L1405.2 163.0 L1410.5 169.9 L1415.8 176.7 L1421.2 183.5 L1426.5 190.1 L1431.8 196.6 L1437.1 203.0 L1442.5 209.2 L1447.8 215.3 L1453.1 221.2 L1458.4 227.0 L1463.8 232.6 L1469.1 238.1 L1474.4 243.4 L1479.7 248.6 L1485.1 253.7 L1490.4 258.6 L1495.7 263.4 L1501.0 268.0 L1506.4 272.6 L1511.7 277.0 L1517.0 281.3 L1522.3 285.5 L1527.7 289.7 L1533.0 293.7 L1538.3 297.6 L1543.6 301.4 L1549.0 305.2 L1554.3 308.8 L1559.6 312.4 L1564.9 315.9 L1570.3 319.4 L1575.6 322.7 L1580.9 326.0 L1586.2 329.2 L1591.6 332.4 L1596.9 335.5 L1602.2 338.5 L1607.5 341.5 L1612.9 344.4 L1618.2 347.3 L1623.5 350.1 L1628.8 352.9 L1634.2 355.7 L1639.5 358.3 L1644.8 361.0 L1650.1 363.6 L1655.5 366.1 L1660.8 368.7 L1666.1 371.1 L1671.4 373.6 L1676.8 376.0 L1682.1 378.4 L1687.4 380.8 L1692.7 383.1 L1698.1 385.4 L1703.4 387.7 L1708.7 389.9 L1714.0 392.1 L1719.4 394.3 L1724.7 396.5 L1730.0 398.7 L1735.3 400.8 L1740.7 402.9 L1746.0 405.0 L1751.3 407.1 L1756.6 409.2 L1762.0 411.3 L1767.3 413.3 L1772.6 415.4 L1777.9 417.4 L1783.3 419.4 L1788.6 421.5 L1793.9 423.5 L1799.2 425.5 L1804.6 427.5 L1809.9 429.6 L1815.2 431.6 L1820.5 433.6 L1825.9 435.6 L1831.2 437.6 L1836.5 439.7 L1841.8 441.7 L1847.2 443.7 L1852.5 445.6 L1857.8 447.5 L1863.1 449.4 L1868.5 451.5 L1873.8 453.6 L1879.1 455.9 L1884.4 458.3 L1889.8 460.7 L1895.1 463.3 L1900.4 466.0 L1905.7 468.7 L1911.1 471.4 L1916.4 474.2 L1921.7 477.0 L1927.0 479.8 L1932.3 482.6 L1937.7 485.4 L1943.0 488.2 L1948.3 491.1 L1953.6 494.0 L1959.0 496.9 L1964.3 499.8 L1969.6 502.8 L1974.9 505.9 L1980.3 508.9 L1985.6 512.0 L1990.9 515.2 L1996.2 518.4 L2001.6 521.7 L2006.9 525.0 L2012.2 528.4 L2017.5 531.9 L2022.9 535.4 L2028.2 539.0 L2033.5 542.7 L2038.8 546.5 L2044.2 550.3 L2049.5 554.3 L2054.8 558.4 L2060.1 562.6 L2065.5 566.9 L2070.8 571.4 L2076.1 576.0 L2081.4 580.7 L2086.8 585.7 L2092.1 590.8 L2097.4 596.1 L2102.7 601.6 L2108.1 607.3 L2113.4 613.3 L2118.7 619.6 L2124.0 626.2 L2129.4 633.1 L2134.7 640.3 L2140.0 648.0 L2142.7 652.0 L2145.3 656.1 L2148.0 660.3 L2150.7 664.7 L2153.3 669.2 L2156.0 673.9 L2158.7 678.7 L2161.3 683.7 L2164.0 688.8 L2166.6 694.2 L2169.3 699.7 L2172.0 705.5 L2174.6 711.5 L2177.3 717.8 L2180.0 724.3 L2182.6 731.2 L2185.3 738.3 L2187.9 745.9 L2190.6 753.8 L2193.3 762.1 L2195.9 770.9 L2198.6 780.2 L2201.2 790.2 L2203.9 800.7 L2206.6 812.0 L2209.2 824.2 L2211.9 837.3 L2214.6 851.6 L2217.2 867.2 L2219.9 884.4 L2222.5 903.5 L2225.2 925.0" stroke="#009933" stroke-width="13"/>
<path d="M351.0 1173.0 C351.8 1165.2 352.1 1157.3 353.3 1149.6 C354.5 1141.8 356.5 1134.0 358.3 1126.3 C359.8 1119.6 361.4 1112.9 363.3 1106.3 C365.2 1099.6 367.6 1093.0 369.9 1086.4 C372.6 1078.6 375.4 1070.8 378.3 1063.1 C380.9 1055.8 383.7 1048.6 386.6 1041.4 C389.3 1034.7 392.2 1028.1 394.9 1021.5 C397.8 1014.3 400.1 1006.9 403.2 999.8 C406.2 993.0 409.9 986.5 413.2 979.8 C416.5 973.2 419.7 966.4 423.2 959.9 C426.9 953.1 430.8 946.5 434.8 939.9 C438.6 933.7 442.3 927.5 446.5 921.6 C450.6 915.8 455.2 910.4 459.8 904.9 C464.6 899.2 469.7 893.7 474.8 888.3 C479.7 883.2 484.8 878.3 489.8 873.3 C508.0 854.8 523.2 832.7 543.0 816.2 C565.8 797.3 593.7 784.6 619.6 769.6 C641.5 757.0 663.7 744.7 686.2 733.0 C708.6 721.4 731.5 710.5 754.4 699.7 C786.8 684.6 819.5 670.0 852.6 656.5 C890.5 640.9 928.8 626.5 967.5 613.2 C999.5 602.2 1034.1 597.6 1064.2 582.5 C1070.8 579.2 1077.1 575.1 1083.7 571.8 C1090.1 568.6 1096.8 566.0 1103.3 562.9 C1109.9 559.8 1116.2 556.2 1122.8 553.2 C1129.8 550.0 1137.2 547.5 1144.1 544.3 C1155.8 538.9 1166.8 532.1 1177.9 525.6 C1185.3 521.3 1192.7 516.8 1200.1 512.3 C1206.3 508.5 1212.9 505.1 1218.7 500.8 C1225.1 496.0 1230.6 490.2 1236.5 484.8 C1241.9 479.8 1246.5 473.7 1252.5 469.7 C1258.8 465.5 1267.0 460.3 1273.8 460.8 C1281.3 461.3 1288.8 469.3 1295.1 475.0 C1299.0 478.5 1303.0 482.3 1305.8 486.6 C1309.7 492.7 1310.7 500.7 1312.9 507.9 C1315.5 516.7 1317.9 525.6 1320.0 534.5 C1321.6 541.6 1323.2 548.7 1324.4 555.8 C1325.6 562.9 1326.3 570.0 1327.1 577.2 C1330.2 606.6 1327.6 636.5 1329.6 666.0 C1331.1 688.4 1335.1 710.6 1336.2 733.0 C1336.2 733.2 1336.2 733.5 1336.2 733.7" stroke="#009933" stroke-width="11.5" stroke-dasharray="11 10.5"/>
<path d="M1331.0 739.7h25.2v13.0h-25.2zM1332.1 761.2h22.8v13.0h-22.8zM1333.1 782.7h20.4v13.0h-20.4zM1334.2 804.2h18.1v13.0h-18.1zM1335.0 825.7h16.6v13.0h-16.6zM1335.1 847.2h16.5v13.0h-16.5zM1335.1 868.7h16.5v13.0h-16.5zM1335.1 890.2h16.5v13.0h-16.5zM1335.1 911.7h16.5v13.0h-16.5zM1335.1 933.2h16.5v13.0h-16.5zM1335.1 954.7h16.5v13.0h-16.5zM1335.1 976.2h16.5v13.0h-16.5zM1335.1 997.7h16.5v13.0h-16.5zM1335.1 1019.2h16.5v13.0h-16.5zM1335.1 1040.7h16.5v13.0h-16.5zM1335.1 1062.2h16.5v13.0h-16.5zM1335.1 1083.7h16.5v13.0h-16.5zM1335.0 1105.2h16.5v13.0h-16.5zM1335.0 1126.7h16.5v13.0h-16.5zM1335.0 1148.2h16.5v13.0h-16.5zM1335.0 1169.7h16.5v13.0h-16.5zM1335.0 1191.2h16.5v13.0h-16.5zM1335.0 1212.7h16.5v13.0h-16.5zM1335.0 1234.2h16.5v13.0h-16.5zM1335.0 1255.7h16.5v0.3h-16.5z" fill="#009933" stroke="none"/>
<path d="M1351.2 733.7 C1351.2 733.5 1351.2 733.2 1351.2 733.0 C1352.6 710.6 1356.0 688.4 1357.9 666.0 C1359.5 647.4 1360.8 628.7 1362.0 610.0 C1363.3 590.2 1362.0 570.1 1365.3 550.5 C1366.5 543.4 1368.1 536.3 1369.7 529.2 C1371.4 522.1 1372.9 514.9 1375.0 507.9 C1377.5 500.0 1378.4 489.8 1383.9 484.8 C1388.6 480.6 1397.0 478.5 1403.5 477.7 C1416.6 476.1 1430.6 486.0 1442.7 492.8 C1449.7 496.7 1456.3 501.4 1462.7 506.1 C1468.4 510.3 1473.8 515.0 1479.4 519.4 C1484.9 523.9 1490.5 528.3 1496.0 532.7 C1501.6 537.2 1506.9 542.0 1512.6 546.1 C1518.0 549.9 1523.7 553.2 1529.3 556.6 C1548.8 568.6 1568.6 580.2 1589.2 589.9 C1602.3 596.0 1615.5 602.0 1629.2 606.5 C1636.8 609.1 1644.8 610.8 1652.5 613.2 C1659.2 615.3 1665.7 618.0 1672.4 619.8 C1680.1 622.0 1688.0 623.0 1695.7 624.8 C1702.4 626.4 1709.0 628.4 1715.7 629.8 C1730.1 632.8 1745.0 633.7 1759.7 634.8 C1780.0 636.4 1800.3 636.4 1820.7 636.5 C1844.7 636.6 1868.8 635.1 1892.9 634.8 C1915.1 634.6 1937.3 634.6 1959.5 634.8 C1984.1 635.1 2009.1 632.9 2033.4 636.5 C2042.1 637.8 2051.2 638.3 2059.3 641.5 C2064.8 643.7 2069.7 647.5 2075.1 650.2 C2086.3 655.8 2099.3 658.1 2110.2 664.2 C2118.9 669.1 2127.1 675.3 2134.7 681.8 C2142.3 688.2 2149.5 695.2 2155.8 702.8 C2166.0 715.3 2173.4 730.3 2180.4 744.9 C2185.8 756.3 2190.3 768.1 2194.4 780.0 C2200.3 797.1 2204.6 814.9 2208.4 832.6 C2213.4 855.7 2215.4 879.4 2218.9 902.8" stroke="#009933" stroke-width="11.5" stroke-dasharray="11 10.5"/>
<path d="M350.9 1033.5 L353.6 1016.8 L356.2 1001.8 L358.9 988.2 L361.5 975.7 L364.2 964.1 L366.9 953.4 L369.5 943.4 L372.2 933.9 L374.9 925.0 L377.5 916.6 L380.2 908.7 L382.8 901.0 L385.5 893.8 L388.2 886.9 L390.8 880.2 L393.5 873.8 L396.2 867.6 L398.8 861.7 L401.5 856.0 L404.1 850.5 L406.8 845.1 L409.5 839.9 L412.1 834.9 L414.8 830.0 L417.5 825.3 L420.1 820.7 L422.8 816.2 L425.4 811.8 L428.1 807.5 L430.8 803.4 L433.4 799.3 L436.1 795.3 L441.4 787.6 L446.7 780.3 L452.1 773.2 L457.4 766.5 L462.7 759.9 L468.0 753.6 L473.4 747.6 L478.7 741.7 L484.0 736.0 L489.3 730.5 L494.7 725.2 L500.0 720.0 L505.3 715.0 L510.6 710.1 L516.0 705.3 L521.3 700.7 L526.6 696.2 L531.9 691.7 L537.3 687.4 L542.6 683.3 L547.9 679.1 L553.2 675.1 L558.6 671.2 L563.9 667.4 L569.2 663.6 L574.5 660.0 L579.9 656.4 L585.2 652.8 L590.5 649.4 L595.8 646.0 L601.2 642.6 L606.5 639.4 L611.8 636.1 L617.1 633.0 L622.5 629.9 L627.8 626.8 L633.1 623.8 L638.4 620.9 L643.8 618.0 L649.1 615.1 L654.4 612.3 L659.7 609.5 L665.1 606.8 L670.4 604.1 L675.7 601.4 L681.0 598.8 L686.4 596.2 L691.7 593.6 L697.0 591.1 L702.3 588.6 L707.7 586.2 L713.0 583.7 L718.3 581.3 L723.6 578.9 L729.0 576.6 L734.3 574.2 L739.6 571.9 L744.9 569.6 L750.3 567.4 L755.6 565.1 L760.9 562.9 L766.2 560.7 L771.6 558.5 L776.9 556.3 L782.2 554.2 L787.5 552.1 L792.9 549.9 L798.2 547.8 L803.5 545.7 L808.8 543.6 L814.2 541.6 L819.5 539.5 L824.8 537.4 L830.1 535.4 L835.5 533.4 L840.8 531.3 L846.1 529.3 L851.4 527.3 L856.8 525.3 L862.1 523.3 L867.4 521.3 L872.7 519.3 L878.0 517.3 L883.4 515.3 L888.7 513.3 L894.0 511.3 L899.3 509.4 L904.7 507.4 L910.0 505.4 L915.3 503.4 L920.6 501.4 L926.0 499.4 L931.3 497.4 L936.6 495.4 L941.9 493.4 L947.3 491.4 L952.6 489.4 L957.9 487.4 L963.2 485.3 L968.6 483.3 L973.9 481.2 L979.2 479.2 L984.5 477.1 L989.9 475.0 L995.2 473.0 L1000.5 470.9 L1005.8 468.7 L1011.2 466.6 L1016.5 464.5 L1021.8 462.3 L1027.1 460.1 L1032.5 458.0 L1037.8 455.7 L1043.1 453.5 L1048.4 451.3 L1053.8 449.0 L1059.1 446.7 L1064.4 444.4 L1069.7 442.1 L1075.1 439.7 L1080.4 437.4 L1085.7 435.0 L1091.0 432.5 L1096.4 430.1 L1101.7 427.6 L1107.0 425.1 L1112.3 422.5 L1117.7 420.0 L1123.0 417.4 L1128.3 414.7 L1133.6 412.1 L1139.0 409.4 L1144.3 406.6 L1149.6 403.8 L1154.9 401.0 L1160.3 398.1 L1165.6 395.2 L1170.9 392.3 L1176.2 389.3 L1181.6 386.2 L1186.9 383.1 L1192.2 380.0 L1197.5 376.8 L1202.9 373.5 L1208.2 370.2 L1213.5 366.8 L1218.8 363.4 L1224.2 359.8 L1229.5 356.3 L1234.8 352.6 L1240.1 348.9 L1245.5 345.1 L1250.8 341.2 L1256.1 337.3 L1261.4 333.2 L1266.8 329.1 L1272.1 324.9 L1277.4 320.5 L1282.7 316.1 L1288.1 311.6 L1293.4 306.9 L1298.7 302.1 L1304.0 297.3 L1309.4 292.2 L1314.7 287.1 L1320.0 281.8 L1325.3 276.3 L1330.7 270.7 L1336.0 265.0 L1341.3 259.0 L1346.6 252.9 L1352.0 246.6 L1357.3 240.1 L1362.6 233.4 L1367.9 226.5 L1373.3 219.5 L1378.6 212.2 L1383.9 204.6 L1389.2 196.9 L1389.4 196.7 L1390.5 195.1 L1391.5 193.5 L1392.6 191.9 L1393.7 190.3 L1394.6 189.0 L1394.7 188.8 L1395.8 187.2 L1396.9 185.5 L1397.9 183.9 L1399.0 182.3 L1399.9 181.0 L1400.1 180.7 L1401.1 179.1 L1402.2 177.4 L1403.3 175.8 L1404.3 174.1 L1405.2 172.8 L1405.4 172.5 L1406.5 170.8 L1407.5 169.2 L1408.6 167.5 L1409.7 165.9 L1410.5 164.5 L1410.7 164.2 L1411.8 162.5 L1412.8 160.9 L1413.9 159.2 L1415.0 157.6 L1415.8 156.2 L1416.0 155.9 L1417.1 154.3 L1418.2 152.6 L1419.2 151.0 L1420.3 149.3 L1421.2 148.0 L1421.4 147.7 L1422.4 146.1 L1423.5 144.5 L1424.6 142.8 L1425.6 141.3 L1426.5 140.0 L1426.7 139.7 L1427.8 138.1 L1428.8 136.6 L1429.9 135.0 L1430.9 133.5 L1431.8 132.3 L1432.0 132.0 L1433.1 130.6 L1434.1 129.1 L1435.2 127.7 L1436.3 126.3 L1437.1 125.2 L1437.3 124.9 L1438.4 123.6 L1439.5 122.3 L1440.5 121.0 L1441.6 119.8 L1442.5 118.8 L1442.7 118.6 L1443.7 117.5 L1444.8 116.4 L1445.9 115.3 L1446.9 114.3 L1447.8 113.5 L1448.0 113.3 L1449.1 112.4 L1450.1 111.5 L1451.2 110.7 L1452.2 110.0 L1453.1 109.4 L1453.3 109.3 L1454.4 108.7 L1455.4 108.1 L1456.5 107.6 L1457.6 107.1 L1458.4 106.8 L1458.6 106.7 L1459.7 106.4 L1460.8 106.1 L1461.8 106.0 L1462.9 105.8 L1463.8 105.8 L1464.0 105.8 L1465.0 105.8 L1466.1 106.0 L1467.2 106.2 L1468.2 106.4 L1469.1 106.7 L1469.3 106.8 L1470.4 107.2 L1471.4 107.6 L1472.5 108.1 L1473.5 108.7 L1474.4 109.3 L1474.6 109.4 L1475.7 110.1 L1476.7 110.8 L1477.8 111.6 L1478.9 112.5 L1479.7 113.3 L1479.9 113.4 L1481.0 114.4 L1482.1 115.4 L1483.1 116.5 L1484.2 117.6 L1485.1 118.5 L1485.3 118.7 L1486.3 119.9 L1487.4 121.2 L1488.5 122.4 L1489.5 123.7 L1490.4 124.8 L1490.6 125.0 L1491.7 126.4 L1492.7 127.8 L1493.8 129.2 L1494.8 130.7 L1495.7 131.9 L1501.0 139.5 L1506.4 147.5 L1511.7 155.6 L1517.0 163.9 L1522.3 172.1 L1527.7 180.3 L1533.0 188.3 L1538.3 196.2 L1543.6 203.8 L1549.0 211.3 L1554.3 218.5 L1559.6 225.6 L1564.9 232.4 L1570.3 239.0 L1575.6 245.5 L1580.9 251.7 L1586.2 257.8 L1591.6 263.7 L1596.9 269.4 L1602.2 274.9 L1607.5 280.3 L1612.9 285.6 L1618.2 290.7 L1623.5 295.7 L1628.8 300.5 L1634.2 305.2 L1639.5 309.9 L1644.8 314.4 L1650.1 318.7 L1655.5 323.0 L1660.8 327.2 L1666.1 331.4 L1671.4 335.4 L1676.8 339.3 L1682.1 343.2 L1687.4 347.0 L1692.7 350.7 L1698.1 354.3 L1703.4 357.9 L1708.7 361.4 L1714.0 364.9 L1719.4 368.3 L1724.7 371.7 L1730.0 375.0 L1735.3 378.2 L1740.7 381.4 L1746.0 384.6 L1751.3 387.7 L1756.6 390.8 L1762.0 393.9 L1767.3 396.9 L1772.6 399.9 L1777.9 402.8 L1783.3 405.7 L1788.6 408.6 L1793.9 411.5 L1799.2 414.3 L1804.6 417.2 L1809.9 420.0 L1815.2 422.7 L1820.5 425.5 L1825.9 428.3 L1831.2 431.0 L1836.5 433.7 L1841.8 436.4 L1847.2 439.1 L1852.5 441.8 L1857.8 444.5 L1863.1 447.2 L1868.5 449.9 L1873.8 452.6 L1879.1 455.3 L1884.4 458.0 L1889.8 460.7 L1895.1 463.4 L1900.4 466.1 L1905.7 468.8 L1911.1 471.5 L1916.4 474.2 L1921.7 477.0 L1927.0 479.8 L1932.3 482.6 L1937.7 485.4 L1943.0 488.2 L1948.3 491.1 L1953.6 494.0 L1959.0 496.9 L1964.3 499.8 L1969.6 502.8 L1974.9 505.9 L1980.3 508.9 L1985.6 512.0 L1990.9 515.2 L1996.2 518.4 L2001.6 521.7 L2006.9 525.0 L2012.2 528.4 L2017.5 531.9 L2022.9 535.4 L2028.2 539.0 L2033.5 542.7 L2038.8 546.5 L2044.2 550.3 L2049.5 554.3 L2054.8 558.4 L2060.1 562.6 L2065.5 566.9 L2070.8 571.4 L2076.1 576.0 L2081.4 580.7 L2086.8 585.7 L2092.1 590.8 L2097.4 596.1 L2102.7 601.6 L2108.1 607.3 L2113.4 613.3 L2118.7 619.6 L2124.0 626.2 L2129.4 633.1 L2134.7 640.3 L2140.0 648.0 L2142.7 652.0 L2145.3 656.1 L2148.0 660.3 L2150.7 664.7 L2153.3 669.2 L2156.0 673.9 L2158.7 678.7 L2161.3 683.7 L2164.0 688.8 L2166.6 694.2 L2169.3 699.7 L2172.0 705.5 L2174.6 711.5 L2177.3 717.8 L2180.0 724.3 L2182.6 731.2 L2185.3 738.3 L2187.9 745.9 L2190.6 753.8 L2193.3 762.1 L2195.9 770.9 L2198.6 780.2 L2201.2 790.2 L2203.9 800.7 L2206.6 812.0 L2209.2 824.2 L2211.9 837.3 L2214.6 851.6 L2217.2 867.2 L2219.9 884.4 L2222.5 903.5 L2225.2 925.0" stroke="#000000" stroke-width="13"/>
<path d="M348.5 1226.0 C350.1 1218.3 351.7 1210.6 353.3 1202.9 C355.6 1191.8 357.6 1180.7 359.9 1169.6 C362.1 1159.6 364.1 1149.5 366.6 1139.6 C368.6 1131.8 370.9 1124.0 373.3 1116.3 C375.3 1109.6 377.7 1103.0 379.9 1096.4 C382.1 1089.7 384.1 1082.9 386.6 1076.4 C389.1 1069.6 392.1 1063.1 394.9 1056.4 C397.7 1049.7 400.3 1043.0 403.2 1036.4 C406.4 1029.2 409.6 1021.9 413.2 1014.8 C416.3 1008.6 419.7 1002.5 423.2 996.5 C426.9 990.3 430.8 984.2 434.8 978.2 C439.1 971.9 443.6 965.9 448.2 959.9 C452.5 954.2 456.9 948.6 461.5 943.2 C466.3 937.5 471.2 931.8 476.5 926.6 C481.7 921.3 487.7 916.7 493.1 911.6 C498.2 906.7 502.7 901.2 508.1 896.6 C513.8 891.7 520.3 887.7 526.4 883.3 C532.5 878.9 538.6 874.4 544.7 870.0 C569.2 852.5 593.0 833.2 619.6 819.6 C640.7 808.7 663.8 801.2 686.2 792.9 C708.7 784.6 731.6 777.1 754.4 769.6 C787.0 759.0 819.6 748.6 852.6 739.7 C890.5 729.4 928.9 720.7 967.5 713.0 C992.6 708.1 1018.1 704.4 1043.3 699.7 C1057.7 697.0 1072.2 694.4 1086.6 691.4 C1101.0 688.4 1115.6 685.4 1129.8 681.4 C1143.3 677.6 1156.5 672.6 1169.8 668.1 C1184.2 663.2 1198.9 658.8 1213.0 653.1 C1226.6 647.7 1239.7 640.9 1253.0 634.8 C1266.3 628.7 1280.2 623.6 1292.9 616.5 C1306.9 608.8 1319.7 598.9 1332.9 589.9 C1344.1 582.2 1355.7 575.2 1366.2 566.6 C1371.9 561.8 1377.0 556.2 1382.8 551.6 C1389.1 546.7 1395.5 539.6 1402.8 538.3 C1409.0 537.2 1417.4 538.4 1422.8 541.6 C1429.1 545.4 1432.7 554.4 1436.1 561.6 C1439.3 568.3 1441.1 575.9 1442.7 583.2 C1444.5 590.9 1444.9 598.8 1446.1 606.5 C1447.1 613.2 1448.6 619.8 1449.4 626.5 C1450.3 634.2 1450.5 642.0 1451.1 649.8 C1452.1 664.2 1453.2 678.7 1454.4 693.1 C1455.5 706.4 1456.8 719.7 1457.7 733.0 C1457.7 733.1 1457.7 733.2 1457.7 733.3" stroke="#000000" stroke-width="11.5" stroke-dasharray="11 10.5"/>
<path d="M1452.6 739.3h25.3v13.0h-25.3zM1454.1 760.8h22.7v13.0h-22.7zM1455.5 782.3h20.2v13.0h-20.2zM1456.5 803.8h18.2v13.0h-18.2zM1457.5 825.3h16.5v13.0h-16.5zM1457.4 846.8h16.5v13.0h-16.5zM1457.2 868.3h16.5v13.0h-16.5zM1457.1 889.8h16.5v13.0h-16.5zM1456.9 911.3h16.5v13.0h-16.5zM1456.9 932.8h16.5v13.0h-16.5zM1456.8 954.3h16.5v13.0h-16.5zM1456.8 975.8h16.5v13.0h-16.5zM1456.7 997.3h16.5v13.0h-16.5zM1456.7 1018.8h16.5v13.0h-16.5zM1456.6 1040.3h16.5v13.0h-16.5zM1456.6 1061.8h16.5v13.0h-16.5zM1456.6 1083.3h16.5v13.0h-16.5zM1456.6 1104.8h16.5v13.0h-16.5zM1456.5 1126.3h16.5v13.0h-16.5zM1456.5 1147.8h16.5v13.0h-16.5zM1456.5 1169.3h16.5v13.0h-16.5zM1456.4 1190.8h16.5v13.0h-16.5zM1456.4 1212.3h16.5v13.0h-16.5zM1456.4 1233.8h16.5v13.0h-16.5z" fill="#000000" stroke="none"/>
<path d="M1472.7 733.3 C1473.2 722.1 1473.7 710.9 1474.4 699.7 C1475.7 677.5 1476.2 655.1 1479.4 633.2 C1481.5 618.6 1483.0 603.7 1487.7 589.9 C1490.8 580.7 1493.9 571.2 1499.3 563.2 C1503.1 557.8 1507.2 549.6 1512.6 548.3 C1517.4 547.1 1524.0 551.1 1529.3 553.3 C1536.4 556.2 1542.9 560.5 1549.3 564.9 C1555.1 568.9 1560.5 573.6 1565.9 578.2 C1571.6 583.1 1576.9 588.4 1582.6 593.2 C1588.0 597.8 1593.4 602.5 1599.2 606.5 C1604.5 610.2 1610.4 613.0 1615.8 616.5 C1621.5 620.2 1626.8 624.5 1632.5 628.2 C1639.0 632.3 1645.4 636.8 1652.5 639.8 C1659.8 643.0 1668.0 644.3 1675.8 646.5 C1683.5 648.7 1691.4 650.7 1699.1 653.1 C1705.8 655.2 1712.3 657.8 1719.0 659.8 C1732.3 663.6 1746.1 666.6 1759.7 668.1 C1779.8 670.3 1800.4 667.6 1820.7 666.4 C1844.8 665.1 1868.8 661.8 1892.9 659.8 C1915.1 657.9 1937.2 655.4 1959.5 654.8 C1984.1 654.1 2008.9 654.0 2033.4 656.5 C2042.0 657.3 2050.9 657.9 2059.3 659.8 C2070.7 662.3 2081.8 666.7 2092.6 671.2 C2104.7 676.2 2117.0 681.5 2127.7 688.8 C2137.9 695.7 2147.5 704.2 2155.8 713.3 C2165.3 723.8 2173.7 735.9 2180.4 748.4 C2186.2 759.5 2190.3 771.6 2194.4 783.5 C2200.3 800.6 2204.6 818.4 2208.4 836.1 C2213.4 859.2 2215.1 883.0 2218.9 906.3 C2220.1 913.3 2221.3 920.4 2222.5 927.4" stroke="#000000" stroke-width="11.5" stroke-dasharray="11 10.5"/>
<path d="M350.9 1072.4 L353.6 1055.1 L356.2 1039.4 L358.9 1025.0 L361.5 1011.8 L364.2 999.4 L366.9 987.8 L369.5 977.0 L372.2 966.7 L374.9 957.0 L377.5 947.7 L380.2 938.9 L382.8 930.5 L385.5 922.4 L388.2 914.7 L390.8 907.3 L393.5 900.1 L396.2 893.2 L398.8 886.6 L401.5 880.1 L404.1 873.9 L406.8 867.9 L409.5 862.1 L412.1 856.4 L414.8 850.9 L417.5 845.6 L420.1 840.4 L422.8 835.4 L425.4 830.5 L428.1 825.7 L430.8 821.0 L433.4 816.5 L436.1 812.1 L441.4 803.6 L446.7 795.5 L452.1 787.7 L457.4 780.4 L462.7 773.3 L468.0 766.5 L473.4 760.1 L478.7 753.9 L484.0 747.9 L489.3 742.2 L494.7 736.7 L500.0 731.4 L505.3 726.3 L510.6 721.4 L516.0 716.7 L521.3 712.2 L526.6 707.8 L531.9 703.5 L537.3 699.4 L542.6 695.5 L547.9 691.7 L553.2 688.0 L558.6 684.4 L563.9 680.9 L569.2 677.6 L574.5 674.3 L579.9 671.2 L585.2 668.1 L590.5 665.1 L595.8 662.2 L601.2 659.4 L606.5 656.7 L611.8 654.0 L617.1 651.4 L622.5 648.9 L627.8 646.4 L633.1 644.0 L638.4 641.7 L643.8 639.4 L649.1 637.1 L654.4 634.9 L659.7 632.7 L665.1 630.6 L670.4 628.5 L675.7 626.5 L681.0 624.5 L686.4 622.5 L691.7 620.6 L697.0 618.7 L702.3 616.8 L707.7 614.9 L713.0 613.1 L718.3 611.3 L723.6 609.5 L729.0 607.7 L734.3 606.0 L739.6 604.2 L744.9 602.5 L750.3 600.8 L755.6 599.1 L760.9 597.4 L766.2 595.7 L771.6 594.1 L776.9 592.4 L782.2 590.8 L787.5 589.1 L792.9 587.5 L798.2 585.9 L803.5 584.2 L808.8 582.6 L814.2 581.0 L819.5 579.4 L824.8 577.8 L830.1 576.1 L835.5 574.5 L840.8 572.9 L846.1 571.3 L851.4 569.7 L856.8 568.0 L862.1 566.4 L867.4 564.8 L872.7 563.1 L878.0 561.5 L883.4 559.9 L888.7 558.2 L894.0 556.6 L899.3 554.9 L904.7 553.3 L910.0 551.6 L915.3 549.9 L920.6 548.2 L926.0 546.5 L931.3 544.8 L936.6 543.1 L941.9 541.4 L947.3 539.7 L952.6 538.0 L957.9 536.2 L963.2 534.5 L968.6 532.7 L973.9 531.0 L979.2 529.2 L984.5 527.4 L989.9 525.6 L995.2 523.8 L1000.5 522.0 L1005.8 520.2 L1011.2 518.4 L1016.5 516.6 L1021.8 514.7 L1027.1 512.8 L1032.5 511.0 L1037.8 509.1 L1043.1 507.2 L1048.4 505.3 L1053.8 503.4 L1059.1 501.4 L1064.4 499.5 L1069.7 497.5 L1075.1 495.6 L1080.4 493.6 L1085.7 491.6 L1091.0 489.6 L1096.4 487.6 L1101.7 485.5 L1107.0 483.5 L1112.3 481.4 L1117.7 479.4 L1123.0 477.3 L1128.3 475.2 L1133.6 473.0 L1139.0 470.9 L1144.3 468.7 L1149.6 466.5 L1154.9 464.3 L1160.3 462.1 L1165.6 459.9 L1170.9 457.6 L1176.2 455.4 L1181.6 453.1 L1186.9 450.7 L1192.2 448.4 L1197.5 446.0 L1202.9 443.6 L1208.2 441.2 L1213.5 438.8 L1218.8 436.3 L1224.2 433.8 L1229.5 431.3 L1234.8 428.7 L1240.1 426.1 L1245.5 423.5 L1250.8 420.9 L1256.1 418.2 L1261.4 415.4 L1266.8 412.7 L1272.1 409.9 L1277.4 407.0 L1282.7 404.1 L1288.1 401.2 L1293.4 398.2 L1298.7 395.2 L1304.0 392.1 L1309.4 389.0 L1314.7 385.8 L1320.0 382.5 L1325.3 379.2 L1330.7 375.8 L1336.0 372.4 L1341.3 368.9 L1346.6 365.3 L1352.0 361.7 L1357.3 357.9 L1362.6 354.1 L1367.9 350.2 L1373.3 346.2 L1378.6 342.1 L1383.9 337.9 L1389.2 333.6 L1394.6 329.2 L1399.9 324.6 L1405.2 320.0 L1410.5 315.2 L1415.8 310.2 L1421.2 305.2 L1426.5 299.9 L1431.8 294.5 L1437.1 288.9 L1442.5 283.2 L1447.8 277.2 L1453.1 271.1 L1458.4 264.7 L1463.8 258.1 L1469.1 251.2 L1474.4 244.1 L1479.7 236.8 L1485.1 229.1 L1490.4 221.2 L1495.7 213.0 L1501.0 204.5 L1506.4 195.7 L1511.7 186.6 L1517.0 177.3 L1522.3 167.9 L1526.3 160.8 L1527.3 158.9 L1527.7 158.3 L1528.4 157.0 L1529.5 155.1 L1530.5 153.2 L1531.6 151.3 L1532.7 149.4 L1533.0 148.8 L1533.7 147.5 L1534.8 145.6 L1535.8 143.7 L1536.9 141.9 L1538.0 140.0 L1538.3 139.5 L1539.0 138.2 L1540.1 136.4 L1541.2 134.7 L1542.2 132.9 L1543.3 131.2 L1543.6 130.6 L1544.4 129.5 L1545.4 127.8 L1546.5 126.2 L1547.6 124.6 L1548.6 123.1 L1549.0 122.6 L1549.7 121.6 L1550.8 120.1 L1551.8 118.7 L1552.9 117.4 L1554.0 116.1 L1554.3 115.7 L1555.0 114.9 L1556.1 113.7 L1557.1 112.6 L1558.2 111.6 L1559.3 110.6 L1559.6 110.4 L1560.3 109.8 L1561.4 109.0 L1562.5 108.3 L1563.5 107.7 L1564.6 107.1 L1564.9 107.0 L1565.7 106.7 L1566.7 106.3 L1567.8 106.0 L1568.9 105.9 L1569.9 105.8 L1570.3 105.8 L1571.0 105.8 L1572.1 105.9 L1573.1 106.1 L1574.2 106.5 L1575.3 106.9 L1575.6 107.0 L1576.3 107.4 L1577.4 108.0 L1578.4 108.6 L1579.5 109.4 L1580.6 110.3 L1580.9 110.5 L1581.6 111.2 L1582.7 112.2 L1583.8 113.3 L1584.8 114.4 L1585.9 115.7 L1586.2 116.1 L1587.0 116.9 L1588.0 118.3 L1589.1 119.7 L1590.2 121.2 L1591.2 122.7 L1591.6 123.2 L1592.3 124.3 L1593.4 125.9 L1594.4 127.5 L1595.5 129.2 L1596.5 130.9 L1596.9 131.5 L1597.6 132.7 L1598.7 134.5 L1599.7 136.3 L1600.8 138.1 L1601.9 140.0 L1602.2 140.6 L1602.9 141.9 L1604.0 143.8 L1605.1 145.7 L1606.1 147.6 L1607.2 149.6 L1607.5 150.2 L1608.3 151.5 L1609.3 153.5 L1610.4 155.5 L1611.5 157.4 L1612.5 159.4 L1612.9 160.0 L1613.6 161.4 L1614.7 163.4 L1615.7 165.3 L1616.8 167.3 L1617.8 169.3 L1618.2 169.9 L1618.9 171.2 L1620.0 173.2 L1621.0 175.2 L1622.1 177.1 L1623.2 179.1 L1623.5 179.7 L1624.2 181.0 L1625.3 182.9 L1626.4 184.9 L1627.4 186.8 L1628.5 188.7 L1628.8 189.3 L1629.6 190.6 L1630.6 192.5 L1631.7 194.3 L1634.2 198.7 L1639.5 207.8 L1644.8 216.6 L1650.1 225.1 L1655.5 233.3 L1660.8 241.2 L1666.1 248.9 L1671.4 256.2 L1676.8 263.3 L1682.1 270.2 L1687.4 276.8 L1692.7 283.2 L1698.1 289.4 L1703.4 295.4 L1708.7 301.1 L1714.0 306.7 L1719.4 312.2 L1724.7 317.4 L1730.0 322.5 L1735.3 327.5 L1740.7 332.3 L1746.0 337.0 L1751.3 341.5 L1756.6 346.0 L1762.0 350.3 L1767.3 354.5 L1772.6 358.6 L1777.9 362.6 L1783.3 366.5 L1788.6 370.4 L1793.9 374.1 L1799.2 377.7 L1804.6 381.3 L1809.9 384.8 L1815.2 388.3 L1820.5 391.6 L1825.9 394.9 L1831.2 398.2 L1836.5 401.4 L1841.8 404.5 L1847.2 407.6 L1852.5 410.7 L1857.8 413.7 L1863.1 416.6 L1868.5 419.6 L1873.8 422.5 L1879.1 425.4 L1884.4 428.2 L1889.8 431.0 L1895.1 433.8 L1900.4 436.6 L1905.7 439.4 L1911.1 442.2 L1916.4 445.0 L1921.7 447.7 L1927.0 450.5 L1932.3 453.3 L1937.7 456.0 L1943.0 458.8 L1948.3 461.7 L1953.6 464.5 L1959.0 467.4 L1964.3 470.2 L1969.6 473.2 L1974.9 476.1 L1980.3 479.1 L1985.6 482.2 L1990.9 485.3 L1996.2 488.5 L2001.6 491.7 L2006.9 495.0 L2012.2 498.4 L2017.5 501.8 L2022.9 505.4 L2028.2 509.0 L2033.5 512.8 L2038.8 516.6 L2044.2 520.6 L2049.5 524.7 L2054.8 529.0 L2060.1 533.4 L2065.5 537.9 L2070.8 542.6 L2076.1 547.5 L2081.4 552.6 L2086.8 557.9 L2092.1 563.4 L2097.4 569.2 L2102.7 575.2 L2108.1 581.4 L2113.4 588.0 L2118.7 594.9 L2124.0 602.1 L2129.4 609.7 L2134.7 617.7 L2140.0 626.1 L2142.7 630.5 L2145.3 635.0 L2148.0 639.6 L2150.7 644.4 L2153.3 649.3 L2156.0 654.4 L2158.7 659.6 L2161.3 665.0 L2164.0 670.6 L2166.6 676.3 L2169.3 682.3 L2172.0 688.5 L2174.6 694.9 L2177.3 701.5 L2180.0 708.4 L2182.6 715.6 L2185.3 723.1 L2187.9 730.9 L2190.6 739.1 L2193.3 747.6 L2195.9 756.5 L2198.6 766.0 L2201.2 775.9 L2203.9 786.4 L2206.6 797.5 L2209.2 809.4 L2211.9 822.1 L2214.6 835.7 L2217.2 850.5 L2219.9 866.5 L2222.5 884.2 L2225.2 903.8" stroke="#1a1aff" stroke-width="13"/>
<path d="M351.0 1267.8 C352.9 1260.6 355.0 1253.4 356.6 1246.2 C359.6 1233.0 360.4 1219.4 363.3 1206.2 C365.2 1197.3 367.6 1188.4 369.9 1179.6 C372.0 1171.8 374.4 1164.0 376.6 1156.3 C378.8 1148.5 380.9 1140.7 383.2 1133.0 C385.3 1126.3 387.7 1119.7 389.9 1113.0 C392.1 1106.3 394.2 1099.6 396.6 1093.0 C399.7 1084.1 402.9 1075.1 406.6 1066.4 C409.6 1059.1 412.8 1051.7 416.5 1044.8 C420.5 1037.3 425.2 1030.2 429.9 1023.1 C434.6 1015.8 439.5 1008.5 444.8 1001.5 C449.6 995.2 454.7 989.1 459.8 983.2 C464.7 977.5 469.7 971.9 474.8 966.5 C480.2 960.8 485.5 955.0 491.4 949.9 C497.2 945.0 503.6 941.0 509.7 936.6 C515.8 932.1 521.8 927.5 528.1 923.2 C534.0 919.2 540.3 915.5 546.4 911.6 C552.5 907.7 558.4 903.5 564.7 899.9 C571.1 896.3 578.0 893.3 584.6 890.0 C591.3 886.6 597.9 883.1 604.6 880.0 C611.2 877.0 617.9 874.3 624.6 871.7 C631.8 868.8 639.1 866.2 646.2 863.3 C659.7 858.0 672.6 851.0 686.2 846.2 C708.2 838.4 731.5 834.4 754.4 829.6 C786.9 822.7 819.7 817.0 852.6 812.9 C890.7 808.2 929.1 806.4 967.5 804.6 C981.6 803.9 995.8 803.4 1010.0 802.9 C1028.8 802.3 1047.7 801.6 1066.6 801.3 C1088.8 800.9 1111.0 801.5 1133.2 801.3 C1155.4 801.0 1177.5 800.2 1199.7 799.6 C1221.9 799.0 1244.1 799.0 1266.3 797.9 C1283.0 797.1 1299.6 796.2 1316.2 794.6 C1326.2 793.7 1336.3 792.9 1346.2 791.3 C1358.5 789.3 1370.7 786.2 1382.8 783.0 C1394.0 780.0 1405.4 777.2 1416.1 773.0 C1427.6 768.4 1439.0 762.9 1449.4 756.3 C1461.4 748.8 1471.6 738.6 1482.7 729.7 C1488.2 725.3 1494.5 721.5 1499.3 716.4 C1504.5 711.0 1508.1 704.1 1512.6 698.1 C1518.1 690.8 1522.7 675.8 1529.3 676.4 C1533.3 676.8 1539.1 682.4 1542.6 686.4 C1548.6 693.3 1550.0 704.0 1552.6 713.0 C1556.6 727.0 1557.6 741.8 1559.3 756.3 C1560.9 770.7 1561.3 785.2 1562.6 799.6 C1563.6 810.7 1565.5 821.7 1565.9 832.9 C1565.9 833.1 1565.9 833.3 1565.9 833.4" stroke="#1a1aff" stroke-width="11.5" stroke-dasharray="11 10.5"/>
<path d="M1560.6 839.4h25.4v13.0h-25.4zM1561.3 860.9h23.6v13.0h-23.6zM1562.1 882.4h21.9v13.0h-21.9zM1562.8 903.9h20.1v13.0h-20.1zM1563.5 925.4h18.3v13.0h-18.3zM1564.0 946.9h17.1v13.0h-17.1zM1564.3 968.4h16.5v13.0h-16.5zM1564.2 989.9h16.5v13.0h-16.5zM1564.2 1011.4h16.5v13.0h-16.5zM1564.2 1032.9h16.5v13.0h-16.5zM1564.1 1054.4h16.5v13.0h-16.5zM1564.1 1075.9h16.5v13.0h-16.5zM1564.1 1097.4h16.5v13.0h-16.5zM1564.1 1118.9h16.5v13.0h-16.5zM1564.0 1140.4h16.5v13.0h-16.5zM1564.0 1161.9h16.5v13.0h-16.5zM1564.0 1183.4h16.5v13.0h-16.5zM1563.9 1204.9h16.5v13.0h-16.5zM1563.9 1226.4h16.5v13.0h-16.5zM1563.9 1247.9h16.5v13.0h-16.5zM1563.9 1269.4h16.5v13.0h-16.5zM1563.9 1290.9h16.5v13.0h-16.5zM1563.8 1312.4h16.5v13.0h-16.5zM1563.8 1333.9h16.5v13.0h-16.5zM1563.8 1355.4h16.5v13.0h-16.5zM1563.8 1376.9h16.5v13.0h-16.5z" fill="#1a1aff" stroke="none"/>
<path d="M1580.9 833.4 C1580.9 833.3 1580.9 833.1 1580.9 832.9 C1582.0 810.7 1583.9 788.5 1585.9 766.3 C1587.8 744.1 1589.4 721.8 1592.5 699.7 C1594.4 686.4 1594.5 672.3 1599.2 659.8 C1601.8 652.9 1604.6 645.5 1609.2 639.8 C1612.8 635.3 1617.7 630.3 1622.5 628.2 C1633.1 623.5 1647.6 635.5 1659.9 639.8 C1676.8 645.7 1692.6 655.0 1709.8 659.8 C1726.0 664.3 1743.0 666.8 1759.7 668.1 C1779.9 669.7 1800.4 667.6 1820.7 666.4 C1844.8 665.1 1868.8 661.8 1892.9 659.8 C1915.1 657.9 1937.2 655.4 1959.5 654.8 C1984.1 654.1 2008.9 654.0 2033.4 656.5 C2042.0 657.3 2050.9 657.9 2059.3 659.8 C2070.7 662.3 2081.8 666.7 2092.6 671.2 C2104.7 676.2 2117.0 681.5 2127.7 688.8 C2137.9 695.7 2147.5 704.2 2155.8 713.3 C2165.3 723.8 2173.7 735.9 2180.4 748.4 C2186.2 759.5 2190.3 771.6 2194.4 783.5 C2200.3 800.6 2204.6 818.4 2208.4 836.1 C2213.4 859.2 2215.1 883.0 2218.9 906.3 C2220.1 913.3 2221.3 920.4 2222.5 927.4" stroke="#1a1aff" stroke-width="11.5" stroke-dasharray="11 10.5" stroke-dashoffset="10.7"/>
<path d="M350.9 1079.4 L353.6 1063.4 L356.2 1048.9 L358.9 1035.5 L361.5 1023.1 L364.2 1011.5 L366.9 1000.6 L369.5 990.3 L372.2 980.5 L374.9 971.2 L377.5 962.4 L380.2 953.9 L382.8 945.8 L385.5 938.0 L388.2 930.5 L390.8 923.3 L393.5 916.3 L396.2 909.6 L398.8 903.1 L401.5 896.8 L404.1 890.7 L406.8 884.7 L409.5 879.0 L412.1 873.4 L414.8 868.0 L417.5 862.7 L420.1 857.6 L422.8 852.6 L425.4 847.7 L428.1 843.0 L430.8 838.3 L433.4 833.8 L436.1 829.4 L441.4 820.9 L446.7 812.8 L452.1 805.1 L457.4 797.7 L462.7 790.7 L468.0 783.9 L473.4 777.4 L478.7 771.2 L484.0 765.2 L489.3 759.5 L494.7 754.0 L500.0 748.7 L505.3 743.6 L510.6 738.8 L516.0 734.1 L521.3 729.5 L526.6 725.2 L531.9 721.0 L537.3 716.9 L542.6 713.0 L547.9 709.2 L553.2 705.6 L558.6 702.0 L563.9 698.6 L569.2 695.3 L574.5 692.2 L579.9 689.1 L585.2 686.1 L590.5 683.2 L595.8 680.4 L601.2 677.7 L606.5 675.0 L611.8 672.5 L617.1 670.0 L622.5 667.5 L627.8 665.2 L633.1 662.9 L638.4 660.6 L643.8 658.4 L649.1 656.3 L654.4 654.2 L659.7 652.2 L665.1 650.2 L670.4 648.2 L675.7 646.3 L681.0 644.5 L686.4 642.6 L691.7 640.8 L697.0 639.0 L702.3 637.3 L707.7 635.6 L713.0 633.9 L718.3 632.2 L723.6 630.6 L729.0 628.9 L734.3 627.3 L739.6 625.7 L744.9 624.2 L750.3 622.6 L755.6 621.0 L760.9 619.5 L766.2 618.0 L771.6 616.5 L776.9 615.0 L782.2 613.5 L787.5 612.0 L792.9 610.5 L798.2 609.0 L803.5 607.5 L808.8 606.1 L814.2 604.6 L819.5 603.1 L824.8 601.7 L830.1 600.2 L835.5 598.7 L840.8 597.3 L846.1 595.8 L851.4 594.3 L856.8 592.9 L862.1 591.4 L867.4 589.9 L872.7 588.4 L878.0 587.0 L883.4 585.5 L888.7 584.0 L894.0 582.5 L899.3 581.0 L904.7 579.5 L910.0 578.0 L915.3 576.5 L920.6 575.0 L926.0 573.5 L931.3 571.9 L936.6 570.4 L941.9 568.9 L947.3 567.3 L952.6 565.8 L957.9 564.2 L963.2 562.7 L968.6 561.1 L973.9 559.5 L979.2 558.0 L984.5 556.4 L989.9 554.8 L995.2 553.2 L1000.5 551.6 L1005.8 550.0 L1011.2 548.4 L1016.5 546.8 L1021.8 545.1 L1027.1 543.5 L1032.5 541.9 L1037.8 540.2 L1043.1 538.6 L1048.4 536.9 L1053.8 535.3 L1059.1 533.6 L1064.4 531.9 L1069.7 530.2 L1075.1 528.6 L1080.4 526.9 L1085.7 525.2 L1091.0 523.5 L1096.4 521.8 L1101.7 520.0 L1107.0 518.3 L1112.3 516.6 L1117.7 514.9 L1123.0 513.1 L1128.3 511.4 L1133.6 509.6 L1139.0 507.8 L1144.3 506.1 L1149.6 504.3 L1154.9 502.5 L1160.3 500.7 L1165.6 498.9 L1170.9 497.1 L1176.2 495.3 L1181.6 493.5 L1186.9 491.6 L1192.2 489.8 L1197.5 487.9 L1202.9 486.1 L1208.2 484.2 L1213.5 482.3 L1218.8 480.4 L1224.2 478.5 L1229.5 476.6 L1234.8 474.7 L1240.1 472.7 L1245.5 470.8 L1250.8 468.8 L1256.1 466.8 L1261.4 464.8 L1266.8 462.8 L1272.1 460.8 L1277.4 458.7 L1282.7 456.7 L1288.1 454.6 L1293.4 452.5 L1298.7 450.4 L1304.0 448.2 L1309.4 446.0 L1314.7 443.8 L1320.0 441.6 L1325.3 439.4 L1330.7 437.1 L1336.0 434.8 L1341.3 432.5 L1346.6 430.1 L1352.0 427.7 L1357.3 425.3 L1362.6 422.8 L1367.9 420.3 L1373.3 417.8 L1378.6 415.2 L1383.9 412.6 L1389.2 409.9 L1394.6 407.2 L1399.9 404.4 L1405.2 401.6 L1410.5 398.7 L1415.8 395.8 L1421.2 392.8 L1426.5 389.7 L1431.8 386.6 L1437.1 383.4 L1442.5 380.1 L1447.8 376.8 L1453.1 373.4 L1458.4 369.9 L1463.8 366.3 L1469.1 362.6 L1474.4 358.8 L1479.7 354.9 L1485.1 350.9 L1490.4 346.8 L1495.7 342.6 L1501.0 338.2 L1506.4 333.7 L1511.7 329.1 L1517.0 324.3 L1522.3 319.3 L1527.7 314.2 L1533.0 308.9 L1538.3 303.4 L1543.6 297.7 L1549.0 291.8 L1554.3 285.6 L1559.6 279.2 L1564.9 272.5 L1570.3 265.6 L1575.6 258.3 L1580.9 250.8 L1586.2 242.9 L1591.6 234.6 L1596.9 226.0 L1602.2 216.9 L1607.5 207.5 L1612.9 197.7 L1618.2 187.5 L1623.5 177.0 L1628.8 166.2 L1634.2 155.2 L1638.4 146.6 L1639.4 144.5 L1639.5 144.4 L1640.5 142.3 L1641.6 140.2 L1642.6 138.1 L1643.7 136.0 L1644.7 134.0 L1644.8 133.8 L1645.8 131.9 L1646.9 129.9 L1647.9 128.0 L1649.0 126.1 L1650.1 124.2 L1650.1 124.1 L1651.1 122.4 L1652.2 120.6 L1653.3 118.9 L1654.3 117.3 L1655.4 115.7 L1655.5 115.6 L1656.5 114.2 L1657.5 112.8 L1658.6 111.5 L1659.7 110.3 L1660.7 109.2 L1660.8 109.1 L1661.8 108.2 L1662.9 107.2 L1663.9 106.4 L1665.0 105.7 L1666.0 105.1 L1666.1 105.1 L1667.1 104.7 L1668.2 104.3 L1669.2 104.1 L1670.3 104.0 L1671.4 104.1 L1671.4 104.1 L1672.4 104.3 L1673.5 104.7 L1674.6 105.2 L1675.6 105.7 L1676.7 106.4 L1676.8 106.5 L1677.8 107.3 L1678.8 108.2 L1679.9 109.3 L1681.0 110.4 L1682.0 111.7 L1682.1 111.7 L1683.1 113.0 L1684.2 114.4 L1685.2 116.0 L1686.3 117.6 L1687.3 119.3 L1687.4 119.4 L1688.4 121.0 L1689.5 122.9 L1690.5 124.8 L1691.6 126.7 L1692.7 128.7 L1692.7 128.8 L1693.7 130.8 L1694.8 132.9 L1695.9 135.0 L1696.9 137.2 L1698.0 139.4 L1698.1 139.6 L1699.1 141.7 L1700.1 144.0 L1701.2 146.3 L1702.3 148.6 L1703.3 150.9 L1703.4 151.0 L1704.4 153.2 L1705.5 155.6 L1706.5 157.9 L1707.6 160.3 L1708.6 162.6 L1708.7 162.8 L1709.7 165.0 L1710.8 167.3 L1711.8 169.7 L1712.9 172.0 L1714.0 174.3 L1714.0 174.5 L1715.0 176.7 L1716.1 179.0 L1717.2 181.3 L1718.2 183.6 L1719.3 185.9 L1719.4 186.0 L1720.4 188.2 L1721.4 190.4 L1722.5 192.7 L1723.6 194.9 L1724.6 197.1 L1724.7 197.3 L1725.7 199.3 L1726.8 201.5 L1727.8 203.7 L1728.9 205.9 L1729.9 208.0 L1730.0 208.1 L1731.0 210.1 L1732.1 212.3 L1733.1 214.4 L1734.2 216.4 L1735.3 218.5 L1735.3 218.6 L1736.3 220.6 L1737.4 222.6 L1738.5 224.6 L1739.5 226.6 L1740.6 228.6 L1740.7 228.7 L1741.7 230.6 L1742.7 232.5 L1743.8 234.4 L1746.0 238.4 L1751.3 247.6 L1756.6 256.5 L1762.0 265.1 L1767.3 273.3 L1772.6 281.1 L1777.9 288.7 L1783.3 295.9 L1788.6 302.9 L1793.9 309.7 L1799.2 316.2 L1804.6 322.5 L1809.9 328.5 L1815.2 334.4 L1820.5 340.1 L1825.9 345.6 L1831.2 350.9 L1836.5 356.1 L1841.8 361.1 L1847.2 366.0 L1852.5 370.7 L1857.8 375.4 L1863.1 379.9 L1868.5 384.3 L1873.8 388.6 L1879.1 392.8 L1884.4 396.9 L1889.8 400.9 L1895.1 404.9 L1900.4 408.7 L1905.7 412.6 L1911.1 416.3 L1916.4 420.0 L1921.7 423.6 L1927.0 427.2 L1932.3 430.8 L1937.7 434.3 L1943.0 437.8 L1948.3 441.2 L1953.6 444.7 L1959.0 448.1 L1964.3 451.5 L1969.6 454.9 L1974.9 458.3 L1980.3 461.8 L1985.6 465.2 L1990.9 468.6 L1996.2 472.1 L2001.6 475.6 L2006.9 479.2 L2012.2 482.8 L2017.5 486.4 L2022.9 490.1 L2028.2 493.8 L2033.5 497.7 L2038.8 501.6 L2044.2 505.6 L2049.5 509.7 L2054.8 513.9 L2060.1 518.3 L2065.5 522.7 L2070.8 527.4 L2076.1 532.1 L2081.4 537.1 L2086.8 542.2 L2092.1 547.5 L2097.4 553.0 L2102.7 558.8 L2108.1 564.8 L2113.4 571.0 L2118.7 577.6 L2124.0 584.5 L2129.4 591.8 L2134.7 599.4 L2140.0 607.5 L2142.7 611.7 L2145.3 616.0 L2148.0 620.4 L2150.7 625.0 L2153.3 629.7 L2156.0 634.6 L2158.7 639.7 L2161.3 644.9 L2164.0 650.2 L2166.6 655.8 L2169.3 661.6 L2172.0 667.6 L2174.6 673.8 L2177.3 680.2 L2180.0 686.9 L2182.6 693.9 L2185.3 701.2 L2187.9 708.9 L2190.6 716.9 L2193.3 725.3 L2195.9 734.1 L2198.6 743.4 L2201.2 753.2 L2203.9 763.6 L2206.6 774.7 L2209.2 786.5 L2211.9 799.2 L2214.6 812.8 L2217.2 827.6 L2219.9 843.8 L2222.5 861.7 L2225.2 881.5" stroke="#cc0000" stroke-width="13"/>
<path d="M351.0 1296.0 C352.3 1289.4 353.7 1282.8 355.0 1276.1 C356.2 1269.5 357.0 1262.8 358.3 1256.1 C359.8 1248.3 361.4 1240.5 363.3 1232.8 C365.2 1225.0 367.5 1217.2 369.9 1209.5 C372.0 1202.8 374.6 1196.3 376.6 1189.6 C378.5 1183.0 379.9 1176.2 381.6 1169.6 C383.2 1162.9 384.4 1156.1 386.6 1149.6 C388.8 1142.8 392.2 1136.3 394.9 1129.6 C397.8 1122.5 400.1 1115.1 403.2 1108.0 C406.2 1101.2 409.7 1094.6 413.2 1088.0 C416.9 1081.3 420.8 1074.6 424.9 1068.1 C428.6 1061.9 432.4 1055.7 436.5 1049.7 C440.8 1043.5 445.2 1037.4 449.8 1031.4 C454.1 1025.8 458.3 1020.0 463.1 1014.8 C468.2 1009.4 474.2 1004.8 479.8 999.8 C485.3 994.8 490.7 989.7 496.4 984.8 C501.8 980.2 507.2 975.5 513.1 971.5 C519.4 967.1 526.3 963.6 533.0 959.9 C539.1 956.5 545.2 953.1 551.4 949.9 C558.0 946.4 564.6 943.0 571.3 939.9 C577.9 936.9 584.6 934.3 591.3 931.6 C598.0 928.8 604.6 926.0 611.3 923.2 C617.9 920.5 624.5 917.4 631.3 914.9 C638.3 912.4 645.6 910.2 652.9 908.3 C660.0 906.4 667.3 904.8 674.5 903.3 C681.7 901.8 688.9 900.5 696.2 899.3 C703.4 898.1 710.6 896.9 717.8 896.0 C725.5 894.9 733.3 893.9 741.1 893.3 C748.3 892.7 755.5 892.5 762.7 892.3 C770.0 892.1 777.2 892.0 784.4 892.0 C791.6 891.9 798.8 891.9 806.0 892.0 C813.2 892.0 820.4 892.1 827.7 892.3 C835.4 892.5 843.2 892.9 851.0 893.3 C858.2 893.6 865.4 893.9 872.6 894.3 C879.8 894.7 887.0 895.0 894.2 895.6 C901.5 896.3 908.7 897.0 915.9 898.3 C923.2 899.6 930.3 901.6 937.5 903.3 C944.7 904.9 951.9 906.6 959.1 908.3 C966.4 909.9 973.6 911.3 980.8 913.3 C988.1 915.2 995.1 918.0 1002.4 919.9 C1009.6 921.8 1016.8 923.2 1024.1 924.9 C1031.3 926.6 1038.8 927.4 1045.7 929.9 C1052.4 932.4 1058.3 936.9 1064.9 939.9 C1071.9 943.1 1079.4 945.3 1086.6 948.2 C1093.2 950.9 1100.0 953.5 1106.5 956.5 C1113.3 959.6 1119.9 963.1 1126.5 966.5 C1132.7 969.7 1138.9 972.8 1144.8 976.5 C1151.2 980.5 1157.0 985.4 1163.1 989.8 C1169.2 994.3 1175.7 998.2 1181.4 1003.1 C1186.8 1007.7 1191.3 1013.3 1196.4 1018.1 C1201.8 1023.3 1208.1 1027.6 1213.0 1033.1 C1218.1 1038.7 1222.1 1045.2 1226.4 1051.4 C1230.4 1057.4 1234.2 1063.5 1238.0 1069.7 C1242.0 1076.3 1245.9 1083.0 1249.7 1089.7 C1253.1 1095.8 1256.9 1101.6 1259.7 1108.0 C1262.6 1114.9 1263.7 1122.6 1266.3 1129.6 C1268.8 1136.4 1272.2 1142.8 1274.6 1149.6 C1277.2 1156.7 1279.3 1164.0 1281.3 1171.3 C1283.2 1178.4 1284.6 1185.7 1286.3 1192.9 C1287.9 1200.1 1289.9 1207.3 1291.3 1214.5 C1292.7 1221.7 1293.5 1229.0 1294.6 1236.2 C1295.7 1243.4 1296.8 1250.6 1297.9 1257.8 C1299.0 1265.0 1300.2 1272.2 1301.3 1279.4 C1302.4 1286.7 1303.8 1293.8 1304.6 1301.1 C1305.4 1308.3 1305.7 1315.5 1306.3 1322.7 C1306.8 1329.9 1307.4 1337.1 1307.9 1344.4 C1308.5 1351.6 1309.1 1358.8 1309.6 1366.0 C1310.2 1373.8 1310.7 1381.5 1311.3 1389.3 C1312.8 1412.6 1294.8 1455.5 1314.6 1459.2 C1318.3 1459.9 1324.1 1459.9 1327.9 1459.2 C1347.7 1455.5 1330.9 1412.6 1331.2 1389.3 C1331.3 1381.5 1330.9 1373.7 1331.2 1366.0 C1331.5 1358.8 1332.3 1351.6 1332.9 1344.4 C1333.4 1337.1 1334.0 1329.9 1334.6 1322.7 C1335.1 1315.0 1335.6 1307.2 1336.2 1299.4 C1336.8 1292.2 1337.1 1285.0 1337.9 1277.8 C1338.7 1270.5 1340.4 1263.4 1341.2 1256.1 C1342.0 1249.0 1342.0 1241.7 1342.9 1234.5 C1343.7 1227.3 1345.1 1220.1 1346.2 1212.9 C1347.3 1205.7 1348.2 1198.4 1349.5 1191.2 C1350.9 1184.0 1352.9 1176.8 1354.5 1169.6 C1356.3 1161.8 1357.8 1154.0 1359.5 1146.3 C1361.1 1139.1 1362.8 1131.9 1364.5 1124.6 C1366.2 1117.4 1367.6 1110.2 1369.5 1103.0 C1371.5 1095.7 1373.9 1088.6 1376.2 1081.4 C1378.3 1074.7 1380.7 1068.1 1382.8 1061.4 C1385.1 1054.2 1387.2 1046.9 1389.5 1039.8 C1391.6 1033.1 1393.8 1026.4 1396.1 1019.8 C1398.7 1012.5 1401.6 1005.3 1404.5 998.1 C1407.1 991.5 1410.0 984.8 1412.8 978.2 C1415.6 971.5 1418.3 964.9 1421.1 958.2 C1423.9 951.5 1426.4 944.8 1429.4 938.2 C1432.5 931.5 1436.1 924.9 1439.4 918.3 C1442.7 911.6 1445.9 904.8 1449.4 898.3 C1453.1 891.5 1458.2 885.4 1461.1 878.3 C1463.4 872.4 1463.8 865.5 1466.0 859.5 C1471.5 844.7 1484.4 833.3 1492.7 819.6 C1499.8 807.7 1506.0 795.2 1512.6 783.0 C1519.3 770.8 1526.2 758.7 1532.6 746.3 C1539.5 733.1 1545.9 719.7 1552.6 706.4 C1559.3 693.1 1564.1 678.6 1572.6 666.4 C1577.5 659.4 1584.1 653.4 1589.2 646.5 C1594.0 640.1 1598.5 633.4 1602.5 626.5 C1607.6 618.0 1611.2 608.6 1615.8 599.9 C1620.1 592.0 1623.0 582.9 1629.2 576.6 C1633.0 572.7 1639.1 566.5 1642.5 566.6 C1647.5 566.7 1648.7 581.9 1650.8 589.9 C1653.1 598.5 1654.0 607.6 1655.1 616.5 C1656.5 627.5 1656.7 638.7 1657.5 649.8 C1658.6 666.4 1659.8 683.1 1660.8 699.7 C1661.4 711.0 1661.9 722.3 1662.5 733.6" stroke="#cc0000" stroke-width="11.5" stroke-dasharray="11 10.5"/>
<path d="M1657.3 739.6h25.3v13.0h-25.3zM1658.4 761.1h23.2v13.0h-23.2zM1659.4 782.6h21.3v13.0h-21.3zM1660.5 804.1h19.5v13.0h-19.5zM1661.6 825.6h17.7v13.0h-17.7zM1662.1 847.1h16.5v13.0h-16.5zM1662.0 868.6h16.5v13.0h-16.5zM1662.1 890.1h16.5v13.0h-16.5zM1662.3 911.6h16.5v13.0h-16.5zM1662.4 933.1h16.5v13.0h-16.5zM1662.4 954.6h16.5v13.0h-16.5zM1662.5 976.1h16.5v13.0h-16.5zM1662.5 997.6h16.5v13.0h-16.5zM1662.5 1019.1h16.5v13.0h-16.5zM1662.6 1040.6h16.5v13.0h-16.5zM1662.6 1062.1h16.5v13.0h-16.5zM1662.6 1083.6h16.5v13.0h-16.5zM1662.6 1105.1h16.5v13.0h-16.5zM1662.6 1126.6h16.5v13.0h-16.5zM1662.6 1148.1h16.5v13.0h-16.5zM1662.6 1169.6h16.5v13.0h-16.5zM1662.6 1191.1h16.5v13.0h-16.5zM1662.6 1212.6h16.5v13.0h-16.5zM1662.6 1234.1h16.5v13.0h-16.5zM1662.6 1255.6h16.5v13.0h-16.5zM1662.6 1277.1h16.5v5.7h-16.5z" fill="#cc0000" stroke="none"/>
<path d="M1677.4 733.6 C1678.5 711.2 1679.4 688.8 1680.8 666.4 C1682.1 644.2 1683.8 622.0 1685.8 599.9 C1687.2 583.2 1674.7 550.7 1690.7 549.9 C1691.5 549.9 1692.4 550.0 1693.2 549.9 C1700.2 549.3 1698.0 534.8 1703.1 530.0 C1707.4 525.9 1714.3 521.8 1719.8 521.6 C1726.6 521.5 1733.0 529.6 1739.8 533.3 C1746.3 536.8 1753.4 539.5 1759.7 543.3 C1771.9 550.5 1780.9 562.6 1793.0 569.9 C1801.7 575.2 1811.2 579.3 1820.7 583.2 C1833.3 588.5 1846.4 593.1 1859.6 596.5 C1870.5 599.4 1881.8 601.2 1892.9 603.2 C1915.0 607.2 1937.3 610.0 1959.5 613.2 C1984.1 616.7 2008.9 618.8 2033.4 623.2 C2042.0 624.7 2050.8 626.0 2059.3 628.2 C2064.6 629.5 2069.9 631.0 2075.1 632.6 C2087.1 636.4 2098.9 641.1 2110.2 646.7 C2118.6 650.8 2127.3 655.1 2134.7 660.7 C2142.6 666.6 2149.7 674.1 2155.8 681.8 C2167.1 695.9 2173.1 714.1 2180.4 730.9 C2186.3 744.6 2191.5 758.7 2196.1 773.0 C2201.7 790.2 2206.4 807.9 2210.2 825.6 C2214.4 845.3 2216.5 865.4 2219.6 885.3" stroke="#cc0000" stroke-width="11.5" stroke-dasharray="11 10.5"/>
<path d="M350.9 1041.8 L353.6 1024.2 L356.2 1008.4 L358.9 994.1 L361.5 981.0 L364.2 969.0 L366.9 957.8 L369.5 947.4 L372.2 937.7 L374.9 928.6 L377.5 919.9 L380.2 911.8 L382.8 904.0 L385.5 896.7 L388.2 889.6 L390.8 882.9 L393.5 876.5 L396.2 870.3 L398.8 864.4 L401.5 858.7 L404.1 853.2 L406.8 847.9 L409.5 842.8 L412.1 837.9 L414.8 833.1 L417.5 828.5 L420.1 824.0 L422.8 819.6 L425.4 815.4 L428.1 811.3 L430.8 807.3 L433.4 803.4 L436.1 799.6 L441.4 792.3 L446.7 785.3 L452.1 778.7 L457.4 772.4 L462.7 766.4 L468.0 760.6 L473.4 755.0 L478.7 749.7 L484.0 744.5 L489.3 739.6 L494.7 734.8 L500.0 730.2 L505.3 725.8 L510.6 721.5 L516.0 717.3 L521.3 713.3 L526.6 709.4 L531.9 705.6 L537.3 701.9 L542.6 698.4 L547.9 694.9 L553.2 691.6 L558.6 688.3 L563.9 685.1 L569.2 682.0 L574.5 679.0 L579.9 676.1 L585.2 673.2 L590.5 670.4 L595.8 667.7 L601.2 665.0 L606.5 662.4 L611.8 659.9 L617.1 657.4 L622.5 655.0 L627.8 652.6 L633.1 650.3 L638.4 648.1 L643.8 645.8 L649.1 643.7 L654.4 641.5 L659.7 639.5 L665.1 637.4 L670.4 635.4 L675.7 633.5 L681.0 631.5 L686.4 629.6 L691.7 627.8 L697.0 626.0 L702.3 624.2 L707.7 622.4 L713.0 620.7 L718.3 619.0 L723.6 617.4 L729.0 615.7 L734.3 614.1 L739.6 612.5 L744.9 611.0 L750.3 609.5 L755.6 608.0 L760.9 606.5 L766.2 605.0 L771.6 603.6 L776.9 602.2 L782.2 600.8 L787.5 599.4 L792.9 598.1 L798.2 596.7 L803.5 595.4 L808.8 594.1 L814.2 592.8 L819.5 591.6 L824.8 590.3 L830.1 589.1 L835.5 587.9 L840.8 586.7 L846.1 585.5 L851.4 584.4 L856.8 583.2 L862.1 582.1 L867.4 580.9 L872.7 579.8 L878.0 578.7 L883.4 577.7 L888.7 576.6 L894.0 575.5 L899.3 574.5 L904.7 573.4 L910.0 572.4 L915.3 571.4 L920.6 570.4 L926.0 569.4 L931.3 568.4 L936.6 567.4 L941.9 566.4 L947.3 565.5 L952.6 564.5 L957.9 563.6 L963.2 562.6 L968.6 561.7 L973.9 560.7 L979.2 559.8 L984.5 558.9 L989.9 557.9 L995.2 557.0 L1000.5 556.1 L1005.8 555.2 L1011.2 554.3 L1016.5 553.4 L1021.8 552.4 L1027.1 551.5 L1032.5 550.6 L1037.8 549.7 L1043.1 548.8 L1048.4 547.9 L1053.8 547.0 L1059.1 546.1 L1064.4 545.2 L1069.7 544.3 L1075.1 543.4 L1080.4 542.5 L1085.7 541.5 L1091.0 540.6 L1096.4 539.7 L1101.7 538.8 L1107.0 537.9 L1112.3 536.9 L1117.7 536.0 L1123.0 535.0 L1128.3 534.1 L1133.6 533.1 L1139.0 532.2 L1144.3 531.2 L1149.6 530.2 L1154.9 529.2 L1160.3 528.2 L1165.6 527.2 L1170.9 526.2 L1176.2 525.2 L1181.6 524.2 L1186.9 523.1 L1192.2 522.1 L1197.5 521.0 L1202.9 520.0 L1208.2 518.9 L1213.5 517.8 L1218.8 516.7 L1224.2 515.6 L1229.5 514.4 L1234.8 513.3 L1240.1 512.1 L1245.5 510.9 L1250.8 509.7 L1256.1 508.5 L1261.4 507.3 L1266.8 506.0 L1272.1 504.8 L1277.4 503.5 L1282.7 502.2 L1288.1 500.9 L1293.4 499.5 L1298.7 498.2 L1304.0 496.8 L1309.4 495.4 L1314.7 493.9 L1320.0 492.5 L1325.3 491.0 L1330.7 489.5 L1336.0 488.0 L1341.3 486.4 L1346.6 484.8 L1352.0 483.2 L1357.3 481.6 L1362.6 479.9 L1367.9 478.2 L1373.3 476.5 L1378.6 474.7 L1383.9 472.9 L1389.2 471.1 L1394.6 469.2 L1399.9 467.3 L1405.2 465.3 L1410.5 463.3 L1415.8 461.3 L1421.2 459.3 L1426.5 457.1 L1431.8 455.0 L1437.1 452.8 L1442.5 450.6 L1447.8 448.3 L1453.1 445.9 L1458.4 443.5 L1463.8 441.1 L1469.1 438.6 L1474.4 436.0 L1479.7 433.4 L1485.1 430.7 L1490.4 428.0 L1495.7 425.2 L1501.0 422.3 L1506.4 419.4 L1511.7 416.4 L1517.0 413.3 L1522.3 410.1 L1527.7 406.9 L1533.0 403.5 L1538.3 400.1 L1543.6 396.6 L1549.0 393.0 L1554.3 389.3 L1559.6 385.5 L1564.9 381.6 L1570.3 377.6 L1575.6 373.5 L1580.9 369.2 L1586.2 364.8 L1591.6 360.3 L1596.9 355.6 L1602.2 350.8 L1607.5 345.9 L1612.9 340.7 L1618.2 335.4 L1623.5 329.9 L1628.8 324.3 L1634.2 318.4 L1639.5 312.3 L1644.8 305.9 L1650.1 299.3 L1655.5 292.5 L1660.8 285.4 L1666.1 278.0 L1671.4 270.2 L1676.8 262.2 L1682.1 253.7 L1687.4 244.9 L1690.1 240.4 L1691.1 238.6 L1692.2 236.7 L1692.7 235.7 L1693.2 234.8 L1694.3 232.9 L1695.4 231.0 L1696.4 229.1 L1697.5 227.1 L1698.1 226.1 L1698.6 225.2 L1699.6 223.2 L1700.7 221.2 L1701.8 219.2 L1702.8 217.1 L1703.4 216.1 L1703.9 215.1 L1705.0 213.0 L1706.0 210.9 L1707.1 208.8 L1708.2 206.7 L1708.7 205.6 L1709.2 204.6 L1710.3 202.4 L1711.4 200.3 L1712.4 198.1 L1713.5 195.9 L1714.0 194.7 L1714.5 193.7 L1715.6 191.4 L1716.7 189.2 L1717.7 186.9 L1718.8 184.6 L1719.4 183.5 L1719.9 182.4 L1720.9 180.1 L1722.0 177.7 L1723.1 175.4 L1724.1 173.1 L1724.7 171.9 L1725.2 170.7 L1726.3 168.4 L1727.3 166.0 L1728.4 163.7 L1729.5 161.3 L1730.0 160.1 L1730.5 159.0 L1731.6 156.6 L1732.7 154.3 L1733.7 151.9 L1734.8 149.6 L1735.3 148.4 L1735.8 147.2 L1736.9 144.9 L1738.0 142.6 L1739.0 140.4 L1740.1 138.1 L1740.7 136.9 L1741.2 135.9 L1742.2 133.7 L1743.3 131.5 L1744.4 129.4 L1745.4 127.4 L1746.0 126.3 L1746.5 125.4 L1747.6 123.4 L1748.6 121.5 L1749.7 119.7 L1750.8 117.9 L1751.3 117.0 L1751.8 116.2 L1752.9 114.7 L1753.9 113.2 L1755.0 111.8 L1756.1 110.4 L1756.6 109.8 L1757.1 109.2 L1758.2 108.2 L1759.3 107.2 L1760.3 106.3 L1761.4 105.6 L1762.0 105.3 L1762.5 105.0 L1763.5 104.5 L1764.6 104.2 L1765.7 104.9 L1766.7 105.8 L1767.3 106.3 L1767.8 106.7 L1768.9 107.8 L1769.9 109.0 L1771.0 110.2 L1772.1 111.6 L1772.6 112.4 L1773.1 113.1 L1774.2 114.7 L1775.2 116.3 L1776.3 118.1 L1777.4 119.9 L1777.9 120.9 L1778.4 121.9 L1779.5 123.9 L1780.6 125.9 L1781.6 128.1 L1782.7 130.3 L1783.3 131.4 L1783.8 132.5 L1784.8 134.8 L1785.9 137.1 L1787.0 139.5 L1788.0 141.9 L1788.6 143.2 L1789.1 144.4 L1790.2 146.8 L1791.2 149.3 L1792.3 151.8 L1793.4 154.3 L1793.9 155.6 L1794.4 156.9 L1795.5 159.4 L1799.2 168.3 L1804.6 180.8 L1809.9 192.8 L1815.2 204.4 L1820.5 215.4 L1825.9 225.7 L1831.2 235.5 L1836.5 244.8 L1841.8 253.5 L1847.2 261.9 L1852.5 269.8 L1857.8 277.5 L1863.1 284.8 L1868.5 291.9 L1873.8 298.8 L1879.1 305.4 L1884.4 311.9 L1889.8 318.1 L1895.1 324.2 L1900.4 330.2 L1905.7 336.0 L1911.1 341.7 L1916.4 347.3 L1921.7 352.7 L1927.0 358.1 L1932.3 363.4 L1937.7 368.7 L1943.0 373.9 L1948.3 379.0 L1953.6 384.1 L1959.0 389.1 L1964.3 394.1 L1969.6 399.0 L1974.9 403.9 L1980.3 408.8 L1985.6 413.6 L1990.9 418.5 L1996.2 423.3 L2001.6 428.1 L2006.9 432.9 L2012.2 437.7 L2017.5 442.5 L2022.9 447.3 L2028.2 452.1 L2033.5 456.9 L2038.8 461.8 L2044.2 466.7 L2049.5 471.6 L2054.8 476.5 L2060.1 481.5 L2065.5 486.5 L2070.8 491.6 L2076.1 496.8 L2081.4 502.0 L2086.8 507.4 L2092.1 512.8 L2097.4 518.3 L2102.7 524.0 L2108.1 529.8 L2113.4 535.8 L2118.7 541.9 L2124.0 548.3 L2129.4 554.9 L2134.7 561.7 L2140.0 568.9 L2142.7 572.6 L2145.3 576.3 L2148.0 580.2 L2150.7 584.2 L2153.3 588.3 L2156.0 592.5 L2158.7 596.9 L2161.3 601.4 L2164.0 606.0 L2166.6 610.8 L2169.3 615.7 L2172.0 620.9 L2174.6 626.2 L2177.3 631.8 L2180.0 637.6 L2182.6 643.7 L2185.3 650.0 L2187.9 656.7 L2190.6 663.7 L2193.3 671.1 L2195.9 678.9 L2198.6 687.2 L2201.2 696.0 L2203.9 705.4 L2206.6 715.5 L2209.2 726.4 L2211.9 738.2 L2214.6 751.1 L2217.2 765.2 L2219.9 780.7 L2222.5 798.1 L2225.2 817.7" stroke="#ffee22" stroke-width="13"/>
<path d="M351.0 1332.7 C352.3 1324.9 353.3 1317.1 355.0 1309.4 C356.4 1302.7 358.4 1296.1 359.9 1289.4 C361.8 1281.7 363.1 1273.9 364.9 1266.1 C366.5 1259.4 368.3 1252.8 369.9 1246.2 C371.6 1239.5 373.2 1232.8 374.9 1226.2 C377.0 1218.4 379.2 1210.6 381.6 1202.9 C383.7 1196.2 386.0 1189.6 388.2 1182.9 C390.5 1176.2 392.4 1169.5 394.9 1162.9 C397.4 1156.2 400.0 1149.4 403.2 1143.0 C406.6 1136.1 410.7 1129.5 414.9 1123.0 C418.5 1117.3 422.9 1112.0 426.5 1106.3 C430.7 1099.9 433.6 1092.6 438.2 1086.4 C442.6 1080.4 448.2 1075.3 453.2 1069.7 C458.1 1064.2 462.7 1058.2 468.1 1053.1 C473.3 1048.2 479.1 1044.1 484.8 1039.8 C490.8 1035.2 496.9 1030.7 503.1 1026.4 C509.1 1022.4 515.1 1018.3 521.4 1014.8 C528.3 1011.0 535.8 1008.0 543.0 1004.8 C549.6 1001.9 556.2 998.9 563.0 996.5 C570.6 993.8 578.4 991.6 586.3 989.8 C592.9 988.4 599.6 987.3 606.3 986.5 C612.9 985.7 619.6 985.4 626.3 984.8 C634.0 984.2 641.8 983.1 649.6 983.2 C656.2 983.2 662.9 984.3 669.5 984.8 C677.3 985.4 685.2 985.3 692.8 986.5 C700.1 987.6 707.3 989.8 714.5 991.5 C721.7 993.2 729.0 994.5 736.1 996.5 C742.9 998.4 749.4 1000.9 756.1 1003.1 C762.7 1005.4 769.6 1007.1 776.1 1009.8 C782.9 1012.6 789.5 1016.3 796.0 1019.8 C802.8 1023.4 809.4 1027.4 816.0 1031.4 C822.2 1035.2 828.2 1039.2 834.3 1043.1 C840.4 1047.0 846.9 1050.4 852.6 1054.7 C858.6 1059.2 863.6 1064.9 869.3 1069.7 C874.7 1074.3 880.6 1078.3 885.9 1083.0 C891.8 1088.2 897.3 1093.8 902.6 1099.7 C907.3 1105.0 911.6 1110.7 915.9 1116.3 C920.5 1122.3 924.7 1128.5 929.2 1134.6 C933.6 1140.7 938.1 1146.8 942.5 1152.9 C946.9 1159.0 951.2 1165.3 955.8 1171.3 C960.1 1176.9 964.4 1182.6 969.1 1187.9 C972.8 1192.0 976.1 1196.9 980.8 1199.5 C982.8 1200.7 985.2 1202.0 987.4 1202.2 C990.7 1202.5 994.2 1200.2 997.4 1198.9 C1001.5 1197.2 1005.6 1195.4 1009.1 1192.9 C1014.7 1188.8 1018.1 1181.9 1022.4 1176.2 C1027.0 1170.3 1031.2 1164.0 1035.7 1157.9 C1040.7 1151.2 1046.0 1144.8 1050.7 1138.0 C1054.8 1132.0 1058.6 1125.8 1062.3 1119.7 C1066.1 1113.6 1069.5 1107.4 1073.2 1101.3 C1077.0 1095.2 1081.0 1089.1 1084.9 1083.0 C1088.8 1076.9 1092.3 1070.6 1096.5 1064.7 C1100.7 1059.0 1105.4 1053.6 1109.9 1048.1 C1114.3 1042.5 1118.9 1037.1 1123.2 1031.4 C1127.7 1025.4 1131.7 1019.0 1136.5 1013.1 C1141.2 1007.3 1146.3 1001.9 1151.5 996.5 C1156.3 991.4 1161.5 986.5 1166.4 981.5 C1172.0 976.0 1177.4 970.3 1183.1 964.9 C1188.5 959.7 1194.2 954.9 1199.7 949.9 C1205.3 944.9 1210.7 939.7 1216.4 934.9 C1221.8 930.3 1227.5 926.0 1233.0 921.6 C1238.6 917.1 1244.2 912.9 1249.7 908.3 C1255.4 903.4 1260.6 898.1 1266.3 893.3 C1271.7 888.7 1277.4 884.4 1283.0 880.0 C1288.5 875.5 1294.1 871.1 1299.6 866.7 C1317.9 852.0 1334.5 834.9 1354.5 822.9 C1360.5 819.3 1367.1 816.7 1372.8 812.9 C1378.7 809.0 1383.8 803.9 1389.5 799.6 C1395.5 795.0 1401.6 790.7 1407.8 786.3 C1413.3 782.4 1418.9 778.6 1424.4 774.6 C1430.6 770.3 1436.9 766.1 1442.7 761.3 C1448.5 756.6 1453.7 751.2 1459.4 746.3 C1464.8 741.7 1470.5 737.5 1476.0 733.0 C1481.6 728.6 1487.1 724.1 1492.7 719.7 C1498.2 715.3 1504.0 711.1 1509.3 706.4 C1515.2 701.2 1520.4 695.3 1526.0 689.7 C1531.5 684.2 1537.1 678.7 1542.6 673.1 C1548.2 667.6 1553.9 662.2 1559.3 656.5 C1563.8 651.6 1568.0 646.3 1572.6 641.5 C1577.9 635.8 1583.8 630.5 1589.2 624.8 C1594.3 619.4 1599.7 614.1 1604.2 608.2 C1608.5 602.4 1611.2 595.3 1615.8 589.9 C1620.2 584.9 1626.0 581.2 1630.8 576.6 C1636.1 571.5 1641.6 566.4 1645.8 560.6 C1654.4 548.8 1654.7 531.8 1662.4 519.3 C1667.4 511.3 1674.2 504.4 1680.0 496.9 C1683.7 492.1 1687.6 487.4 1691.2 482.5 C1695.7 476.3 1699.8 469.8 1704.0 463.4 C1707.8 457.5 1711.5 451.7 1715.2 445.8 C1718.1 441.0 1720.8 436.0 1723.9 431.4 C1725.7 428.8 1727.6 424.6 1729.5 423.7 C1733.1 422.2 1738.3 431.5 1741.4 436.2 C1746.2 443.3 1747.8 452.7 1749.7 461.2 C1751.4 468.3 1752.0 475.6 1753.1 482.8 C1754.2 490.6 1755.6 498.3 1756.4 506.1 C1757.2 513.9 1757.5 521.6 1758.1 529.4 C1758.7 538.3 1759.6 547.2 1759.7 556.0 C1759.8 559.6 1759.6 563.1 1759.7 566.6 C1759.7 566.6 1759.7 566.7 1759.7 566.7" stroke="#ffee22" stroke-width="11.5" stroke-dasharray="11 10.5"/>
<path d="M1754.5 572.7h25.4v13.0h-25.4zM1755.6 594.2h23.2v13.0h-23.2zM1756.7 615.7h21.1v13.0h-21.1zM1757.6 637.2h19.2v13.0h-19.2zM1757.9 658.7h18.4v13.0h-18.4zM1758.2 680.2h17.6v13.0h-17.6zM1758.4 701.7h16.8v13.0h-16.8zM1758.4 723.2h16.5v13.0h-16.5zM1758.3 744.7h16.5v13.0h-16.5zM1758.1 766.2h16.5v13.0h-16.5zM1758.0 787.7h16.5v13.0h-16.5zM1758.0 809.2h16.5v13.0h-16.5zM1757.9 830.7h16.5v13.0h-16.5zM1757.8 852.2h16.5v13.0h-16.5zM1757.7 873.7h16.5v13.0h-16.5zM1757.6 895.2h16.5v13.0h-16.5zM1757.5 916.7h16.5v13.0h-16.5zM1757.5 938.2h16.5v13.0h-16.5zM1757.5 959.7h16.5v13.0h-16.5zM1757.5 981.2h16.5v13.0h-16.5zM1757.5 1002.7h16.5v13.0h-16.5zM1757.5 1024.2h16.5v13.0h-16.5zM1757.4 1045.7h16.5v13.0h-16.5zM1757.4 1067.2h16.5v13.0h-16.5zM1757.4 1088.7h16.5v13.0h-16.5zM1757.4 1110.2h16.5v13.0h-16.5zM1757.4 1131.7h16.5v13.0h-16.5zM1757.4 1153.2h16.5v13.0h-16.5zM1757.4 1174.7h16.5v13.0h-16.5zM1757.4 1196.2h16.5v13.0h-16.5zM1757.3 1217.7h16.5v13.0h-16.5zM1757.3 1239.2h16.5v13.0h-16.5zM1757.3 1260.7h16.5v13.0h-16.5zM1757.3 1282.2h16.5v13.0h-16.5zM1757.3 1303.7h16.5v13.0h-16.5zM1757.3 1325.2h16.5v13.0h-16.5zM1757.3 1346.7h16.5v13.0h-16.5zM1757.3 1368.2h16.5v13.0h-16.5zM1757.3 1389.7h16.5v3.0h-16.5z" fill="#ffee22" stroke="none"/>
<path d="M1774.7 566.7 C1774.7 566.7 1774.7 566.6 1774.7 566.6 C1775.7 546.4 1774.2 526.1 1776.4 506.1 C1777.2 498.3 1778.6 490.6 1779.7 482.8 C1780.8 475.0 1781.9 467.3 1783.0 459.5 C1784.1 452.3 1784.6 444.9 1786.4 437.9 C1788.0 431.1 1789.9 424.1 1793.0 417.9 C1796.1 411.9 1800.3 402.2 1804.7 401.3 C1810.0 400.0 1816.5 412.8 1823.0 417.9 C1828.3 422.1 1834.7 425.0 1839.6 429.5 C1844.8 434.3 1847.9 441.2 1852.9 446.2 C1857.9 451.2 1864.1 455.0 1869.6 459.5 C1876.3 465.0 1882.6 471.0 1889.6 476.2 C1896.0 480.9 1902.8 485.2 1909.5 489.5 C1915.0 492.9 1920.5 496.3 1926.2 499.5 C1932.7 503.1 1939.5 506.1 1946.2 509.4 C1952.8 512.8 1959.5 516.1 1966.1 519.4 C1972.8 522.8 1979.4 526.1 1986.1 529.4 C1992.8 532.7 1999.4 536.1 2006.1 539.4 C2012.7 542.7 2019.2 546.6 2026.0 549.4 C2032.5 552.1 2039.4 553.8 2046.0 556.0 C2052.7 558.3 2059.5 560.0 2066.0 562.7 C2072.9 565.5 2079.1 569.9 2086.0 572.7 C2092.4 575.4 2099.5 576.7 2105.9 579.3 C2112.8 582.2 2119.5 585.6 2125.9 589.3 C2132.8 593.3 2140.3 597.1 2145.9 602.6 C2151.4 608.2 2154.9 615.9 2159.2 622.6 C2164.9 631.6 2170.9 640.4 2175.8 649.8 C2182.5 662.5 2187.6 676.2 2192.5 689.7 C2197.6 703.9 2201.9 718.5 2205.8 733.0 C2210.5 750.6 2213.5 768.6 2217.5 786.3 C2220.0 797.4 2222.6 808.5 2225.1 819.6" stroke="#ffee22" stroke-width="11.5" stroke-dasharray="11 10.5"/>
<path d="M350.9 975.6 L353.6 958.5 L356.2 943.2 L358.9 929.2 L361.5 916.4 L364.2 904.5 L366.9 893.5 L369.5 883.1 L372.2 873.4 L374.9 864.2 L377.5 855.6 L380.2 847.3 L382.8 839.5 L385.5 832.0 L388.2 824.9 L390.8 818.0 L393.5 811.5 L396.2 805.1 L398.8 799.1 L401.5 793.2 L404.1 787.6 L406.8 782.2 L409.5 776.9 L412.1 771.8 L414.8 766.9 L417.5 762.1 L420.1 757.5 L422.8 753.0 L425.4 748.7 L428.1 744.4 L430.8 740.3 L433.4 736.3 L436.1 732.4 L441.4 725.0 L446.7 717.9 L452.1 711.1 L457.4 704.7 L462.7 698.6 L468.0 692.8 L473.4 687.3 L478.7 682.0 L484.0 676.9 L489.3 672.0 L494.7 667.4 L500.0 663.0 L505.3 658.7 L510.6 654.6 L516.0 650.7 L521.3 646.9 L526.6 643.3 L531.9 639.9 L537.3 636.6 L542.6 633.4 L547.9 630.3 L553.2 627.4 L558.6 624.5 L563.9 621.8 L569.2 619.2 L574.5 616.7 L579.9 614.3 L585.2 611.9 L590.5 609.7 L595.8 607.5 L601.2 605.4 L606.5 603.4 L611.8 601.5 L617.1 599.6 L622.5 597.8 L627.8 596.1 L633.1 594.5 L638.4 592.9 L643.8 591.3 L649.1 589.8 L654.4 588.4 L659.7 587.0 L665.1 585.6 L670.4 584.3 L675.7 583.1 L681.0 581.9 L686.4 580.7 L691.7 579.6 L697.0 578.5 L702.3 577.4 L707.7 576.4 L713.0 575.4 L718.3 574.5 L723.6 573.5 L729.0 572.6 L734.3 571.7 L739.6 570.9 L744.9 570.1 L750.3 569.3 L755.6 568.5 L760.9 567.7 L766.2 567.0 L771.6 566.3 L776.9 565.6 L782.2 564.9 L787.5 564.2 L792.9 563.6 L798.2 562.9 L803.5 562.3 L808.8 561.7 L814.2 561.1 L819.5 560.5 L824.8 559.9 L830.1 559.4 L835.5 558.8 L840.8 558.3 L846.1 557.7 L851.4 557.2 L856.8 556.7 L862.1 556.1 L867.4 555.6 L872.7 555.1 L878.0 554.6 L883.4 554.1 L888.7 553.6 L894.0 553.1 L899.3 552.6 L904.7 552.2 L910.0 551.7 L915.3 551.2 L920.6 550.7 L926.0 550.2 L931.3 549.8 L936.6 549.3 L941.9 548.8 L947.3 548.3 L952.6 547.9 L957.9 547.4 L963.2 546.9 L968.6 546.4 L973.9 546.0 L979.2 545.5 L984.5 545.0 L989.9 544.5 L995.2 544.0 L1000.5 543.5 L1005.8 543.0 L1011.2 542.5 L1016.5 542.0 L1021.8 541.5 L1027.1 541.0 L1032.5 540.5 L1037.8 540.0 L1043.1 539.5 L1048.4 539.0 L1053.8 538.5 L1059.1 538.0 L1064.4 537.4 L1069.7 536.9 L1075.1 536.4 L1080.4 535.8 L1085.7 535.3 L1091.0 534.7 L1096.4 534.2 L1101.7 533.6 L1107.0 533.0 L1112.3 532.4 L1117.7 531.9 L1123.0 531.3 L1128.3 530.7 L1133.6 530.1 L1139.0 529.5 L1144.3 528.9 L1149.6 528.3 L1154.9 527.7 L1160.3 527.0 L1165.6 526.4 L1170.9 525.8 L1176.2 525.1 L1181.6 524.4 L1186.9 523.8 L1192.2 523.1 L1197.5 522.4 L1202.9 521.8 L1208.2 521.1 L1213.5 520.4 L1218.8 519.7 L1224.2 518.9 L1229.5 518.2 L1234.8 517.5 L1240.1 516.7 L1245.5 516.0 L1250.8 515.2 L1256.1 514.4 L1261.4 513.6 L1266.8 512.9 L1272.1 512.0 L1277.4 511.2 L1282.7 510.4 L1288.1 509.6 L1293.4 508.7 L1298.7 507.9 L1304.0 507.0 L1309.4 506.1 L1314.7 505.2 L1320.0 504.3 L1325.3 503.4 L1330.7 502.4 L1336.0 501.5 L1341.3 500.5 L1346.6 499.5 L1352.0 498.5 L1357.3 497.5 L1362.6 496.5 L1367.9 495.4 L1373.3 494.3 L1378.6 493.3 L1383.9 492.2 L1389.2 491.0 L1394.6 489.9 L1399.9 488.7 L1405.2 487.5 L1410.5 486.3 L1415.8 485.1 L1421.2 483.9 L1426.5 482.6 L1431.8 481.3 L1437.1 480.0 L1442.5 478.6 L1447.8 477.2 L1453.1 475.8 L1458.4 474.4 L1463.8 473.0 L1469.1 471.5 L1474.4 470.0 L1479.7 468.4 L1485.1 466.8 L1490.4 465.2 L1495.7 463.6 L1501.0 461.9 L1506.4 460.2 L1511.7 458.4 L1517.0 456.6 L1522.3 454.8 L1527.7 452.9 L1533.0 451.0 L1538.3 449.0 L1543.6 447.0 L1549.0 444.9 L1554.3 442.8 L1559.6 440.6 L1564.9 438.4 L1570.3 436.2 L1575.6 433.8 L1580.9 431.4 L1586.2 429.0 L1591.6 426.5 L1596.9 423.9 L1602.2 421.3 L1607.5 418.5 L1612.9 415.7 L1618.2 412.8 L1623.5 409.9 L1628.8 406.8 L1634.2 403.6 L1639.5 400.4 L1644.8 397.0 L1650.1 393.5 L1655.5 389.9 L1660.8 386.2 L1666.1 382.4 L1671.4 378.4 L1676.8 374.3 L1682.1 370.0 L1687.4 365.6 L1692.7 361.0 L1698.1 356.2 L1703.4 351.3 L1708.7 346.1 L1714.0 340.8 L1719.4 335.3 L1724.7 329.5 L1730.0 323.5 L1735.3 317.3 L1740.7 310.8 L1746.0 304.0 L1751.3 296.9 L1756.6 289.5 L1762.0 281.8 L1767.3 273.8 L1772.6 265.4 L1777.9 256.7 L1783.3 247.5 L1788.6 237.9 L1793.9 227.9 L1799.2 217.5 L1804.6 206.7 L1809.9 195.5 L1815.2 184.0 L1820.5 172.2 L1825.9 160.3 L1826.1 159.7 L1827.2 157.3 L1828.2 154.9 L1829.3 152.6 L1830.4 150.2 L1831.2 148.4 L1831.4 147.9 L1832.5 145.6 L1833.6 143.3 L1834.6 141.0 L1835.7 138.7 L1836.5 137.0 L1836.8 136.5 L1837.8 134.3 L1838.9 132.2 L1840.0 130.0 L1841.0 128.0 L1841.8 126.4 L1842.1 126.0 L1843.1 124.0 L1844.2 122.1 L1845.3 120.2 L1846.3 118.5 L1847.2 117.2 L1847.4 116.8 L1848.5 115.1 L1849.5 113.6 L1850.6 112.1 L1851.7 110.7 L1852.5 109.7 L1852.7 109.4 L1853.8 108.2 L1854.9 107.2 L1855.9 106.2 L1857.0 105.3 L1857.8 104.7 L1858.1 104.5 L1859.1 105.7 L1860.2 106.9 L1861.3 108.3 L1862.3 109.6 L1863.1 110.7 L1863.4 111.1 L1864.4 112.6 L1865.5 114.2 L1866.6 115.8 L1867.6 117.5 L1868.5 118.9 L1868.7 119.3 L1869.8 121.1 L1870.8 123.0 L1871.9 125.0 L1873.0 127.0 L1873.8 128.5 L1874.0 129.0 L1875.1 131.1 L1876.2 133.2 L1877.2 135.4 L1878.3 137.6 L1879.1 139.3 L1879.4 139.8 L1880.4 142.0 L1881.5 144.3 L1882.6 146.6 L1883.6 148.9 L1884.4 150.7 L1884.7 151.3 L1885.7 153.6 L1886.8 155.9 L1887.9 158.3 L1888.9 160.6 L1889.8 162.4 L1890.0 162.9 L1891.1 165.3 L1892.1 167.6 L1893.2 169.9 L1894.3 172.2 L1895.1 174.0 L1895.3 174.5 L1896.4 176.8 L1897.5 179.0 L1898.5 181.3 L1899.6 183.5 L1900.4 185.2 L1900.7 185.7 L1901.7 187.9 L1902.8 190.0 L1903.9 192.2 L1904.9 194.3 L1905.7 195.9 L1906.0 196.3 L1907.0 198.4 L1908.1 200.4 L1909.2 202.5 L1910.2 204.4 L1911.1 205.9 L1911.3 206.4 L1912.4 208.3 L1913.4 210.2 L1914.5 212.1 L1915.6 214.0 L1916.4 215.4 L1916.6 215.8 L1917.7 217.6 L1918.8 219.4 L1919.8 221.2 L1920.9 222.9 L1921.7 224.3 L1922.0 224.7 L1923.0 226.4 L1924.1 228.1 L1925.2 229.7 L1926.2 231.4 L1927.0 232.6 L1927.3 233.0 L1928.3 234.6 L1929.4 236.2 L1930.5 237.8 L1931.5 239.3 L1932.3 240.5 L1937.7 248.0 L1943.0 255.3 L1948.3 262.2 L1953.6 268.8 L1959.0 275.2 L1964.3 281.4 L1969.6 287.4 L1974.9 293.1 L1980.3 298.8 L1985.6 304.2 L1990.9 309.6 L1996.2 314.9 L2001.6 320.1 L2006.9 325.2 L2012.2 330.3 L2017.5 335.4 L2022.9 340.5 L2028.2 345.5 L2033.5 350.6 L2038.8 355.7 L2044.2 360.9 L2049.5 366.0 L2054.8 371.2 L2060.1 376.4 L2065.5 381.7 L2070.8 387.0 L2076.1 392.3 L2081.4 397.7 L2086.8 403.2 L2092.1 408.7 L2097.4 414.3 L2102.7 420.0 L2108.1 425.8 L2113.4 431.8 L2118.7 437.9 L2124.0 444.1 L2129.4 450.6 L2134.7 457.2 L2140.0 464.1 L2142.7 467.7 L2145.3 471.3 L2148.0 475.1 L2150.7 478.9 L2153.3 482.8 L2156.0 486.8 L2158.7 491.0 L2161.3 495.3 L2164.0 499.7 L2166.6 504.3 L2169.3 509.0 L2172.0 513.9 L2174.6 519.0 L2177.3 524.4 L2180.0 529.9 L2182.6 535.8 L2185.3 541.9 L2187.9 548.4 L2190.6 555.2 L2193.3 562.4 L2195.9 570.1 L2198.6 578.2 L2201.2 587.0 L2203.9 596.3 L2206.6 606.5 L2209.2 617.4 L2211.9 629.4 L2214.6 642.5 L2217.2 657.0 L2219.9 673.2 L2222.5 691.3 L2225.2 712.0" stroke="#666666" stroke-width="13"/>
<path d="M351.0 1267.8 C352.9 1260.6 354.9 1253.4 356.6 1246.2 C358.5 1238.4 360.2 1230.7 361.6 1222.8 C364.1 1209.1 363.4 1194.8 366.6 1181.2 C368.4 1173.9 371.0 1166.8 373.3 1159.6 C375.4 1152.9 377.8 1146.3 379.9 1139.6 C382.3 1131.9 384.0 1124.0 386.6 1116.3 C389.0 1109.0 391.9 1101.8 394.9 1094.7 C397.5 1088.5 400.2 1082.4 403.2 1076.4 C406.3 1070.2 409.7 1064.1 413.2 1058.1 C416.9 1051.8 421.0 1045.9 424.9 1039.8 C428.7 1033.7 432.3 1027.3 436.5 1021.5 C441.1 1015.1 446.4 1009.1 451.5 1003.1 C456.4 997.5 461.2 991.8 466.5 986.5 C471.7 981.2 477.6 976.5 483.1 971.5 C488.7 966.5 493.9 961.2 499.8 956.5 C505.1 952.3 510.6 948.4 516.4 944.9 C522.8 941.1 529.8 938.4 536.4 934.9 C542.5 931.7 548.4 927.9 554.7 924.9 C561.2 921.8 568.0 919.4 574.7 916.6 C581.3 913.8 587.9 910.8 594.6 908.3 C601.2 905.8 607.9 903.8 614.6 901.6 C621.8 899.3 629.0 897.2 636.2 895.0 C643.5 892.7 650.7 890.5 657.9 888.3 C665.1 886.1 672.2 883.6 679.5 881.6 C686.7 879.7 694.0 878.6 701.2 876.6 C708.4 874.7 715.5 871.9 722.8 870.0 C729.9 868.1 737.4 867.2 744.4 865.0 C747.8 864.0 751.1 862.7 754.4 861.5 C786.7 850.5 819.7 841.9 852.6 832.9 C890.7 822.4 929.3 813.6 967.5 803.6 C985.0 799.0 1002.3 793.7 1020.0 789.6 C1027.7 787.8 1035.5 786.4 1043.3 784.6 C1050.0 783.1 1056.6 781.4 1063.2 779.6 C1071.1 777.5 1078.7 775.0 1086.6 773.0 C1093.2 771.2 1099.8 769.5 1106.5 768.0 C1114.3 766.2 1122.1 764.8 1129.8 763.0 C1136.5 761.4 1143.1 759.5 1149.8 758.0 C1157.5 756.2 1165.4 754.8 1173.1 753.0 C1179.8 751.4 1186.4 749.8 1193.1 748.0 C1200.9 745.9 1208.7 743.7 1216.4 741.3 C1223.1 739.3 1229.6 736.6 1236.4 734.7 C1242.9 732.8 1249.7 731.5 1256.3 729.7 C1263.6 727.7 1270.8 725.3 1278.0 723.0 C1285.2 720.8 1292.4 718.7 1299.6 716.4 C1306.3 714.2 1313.0 712.1 1319.6 709.7 C1326.8 707.1 1333.9 704.0 1341.2 701.4 C1347.8 699.0 1354.6 697.1 1361.2 694.7 C1368.5 692.1 1375.5 689.0 1382.8 686.4 C1389.4 684.1 1396.2 682.2 1402.8 679.8 C1409.5 677.2 1416.1 674.2 1422.8 671.4 C1429.4 668.7 1436.2 666.1 1442.7 663.1 C1449.5 660.0 1456.0 656.2 1462.7 653.1 C1469.3 650.1 1476.0 647.6 1482.7 644.8 C1489.3 642.0 1496.1 639.5 1502.7 636.5 C1509.4 633.4 1516.1 630.0 1522.6 626.5 C1529.4 622.8 1536.0 618.7 1542.6 614.8 C1549.3 611.0 1556.1 607.4 1562.6 603.2 C1568.3 599.5 1573.8 595.6 1579.2 591.5 C1585.5 586.8 1591.1 581.2 1597.5 576.6 C1603.4 572.3 1609.9 569.0 1615.8 564.9 C1622.1 560.7 1628.1 556.0 1634.2 551.6 C1640.3 547.2 1646.6 543.0 1652.5 538.3 C1658.3 533.6 1664.2 528.8 1669.1 523.3 C1674.6 517.1 1677.5 508.7 1683.2 502.8 C1688.0 497.7 1694.5 494.2 1699.8 489.5 C1705.7 484.3 1710.9 478.4 1716.5 472.8 C1720.9 468.4 1725.3 463.9 1729.8 459.5 C1735.3 454.0 1741.2 448.7 1746.4 442.9 C1751.1 437.6 1755.7 432.1 1759.7 426.2 C1763.4 420.9 1766.6 415.2 1769.7 409.6 C1773.3 403.1 1775.4 395.6 1779.7 389.6 C1784.2 383.3 1791.8 379.3 1796.4 373.0 C1800.6 367.0 1802.1 359.0 1806.3 353.0 C1810.8 346.7 1816.7 340.9 1823.0 336.3 C1827.6 333.0 1834.2 327.6 1838.0 328.0 C1843.7 328.7 1844.3 344.5 1846.3 353.0 C1848.0 360.6 1848.8 368.5 1849.6 376.3 C1850.3 382.9 1850.8 389.6 1851.3 396.3 C1851.9 404.0 1852.4 411.8 1852.9 419.6 C1853.5 427.3 1854.3 435.1 1854.6 442.9 C1854.7 445.2 1854.8 447.6 1854.9 450.0" stroke="#666666" stroke-width="11.5" stroke-dasharray="11 10.5"/>
<path d="M1849.6 456.0h25.4v13.0h-25.4zM1850.3 477.5h23.6v13.0h-23.6zM1851.0 499.0h21.9v13.0h-21.9zM1851.5 520.5h20.3v13.0h-20.3zM1852.1 542.0h18.7v13.0h-18.7zM1852.5 563.5h17.5v13.0h-17.5zM1852.8 585.0h17.0v13.0h-17.0zM1853.0 606.5h16.5v13.0h-16.5zM1853.1 628.0h16.5v13.0h-16.5zM1853.1 649.5h16.5v13.0h-16.5zM1853.1 671.0h16.5v13.0h-16.5zM1853.1 692.5h16.5v13.0h-16.5zM1853.1 714.0h16.5v13.0h-16.5zM1853.1 735.5h16.5v13.0h-16.5zM1853.1 757.0h16.5v13.0h-16.5zM1853.1 778.5h16.5v13.0h-16.5zM1853.1 800.0h16.5v13.0h-16.5zM1853.1 821.5h16.5v13.0h-16.5zM1853.1 843.0h16.5v13.0h-16.5zM1853.1 864.5h16.5v13.0h-16.5zM1853.1 886.0h16.5v13.0h-16.5zM1853.1 907.5h16.5v13.0h-16.5zM1853.1 929.0h16.5v13.0h-16.5zM1853.1 950.5h16.5v13.0h-16.5zM1853.1 972.0h16.5v13.0h-16.5zM1853.1 993.5h16.5v13.0h-16.5zM1853.1 1015.0h16.5v13.0h-16.5zM1853.1 1036.5h16.5v13.0h-16.5zM1853.1 1058.0h16.5v8.4h-16.5z" fill="#666666" stroke="none"/>
<path d="M1869.8 450.0 C1870.3 439.9 1870.6 429.7 1871.3 419.6 C1871.7 412.9 1872.2 406.2 1872.9 399.6 C1873.8 391.8 1875.0 384.0 1876.2 376.3 C1877.3 369.6 1878.3 362.9 1879.6 356.3 C1881.0 348.5 1882.2 340.5 1884.6 333.0 C1886.7 326.2 1888.0 318.0 1892.9 313.0 C1894.8 311.1 1897.1 308.9 1899.5 308.0 C1903.5 306.6 1908.9 308.2 1912.9 309.7 C1919.8 312.3 1923.8 321.0 1929.5 326.4 C1934.9 331.5 1940.6 336.4 1946.2 341.3 C1951.1 345.8 1956.2 350.2 1961.1 354.6 C1966.7 359.6 1972.1 364.8 1977.8 369.6 C1983.2 374.2 1989.0 378.4 1994.4 382.9 C2000.1 387.8 2005.3 393.2 2011.1 397.9 C2016.9 402.7 2023.1 407.0 2029.4 411.2 C2035.4 415.3 2041.7 418.8 2047.7 422.9 C2053.9 427.1 2059.8 432.0 2066.0 436.2 C2072.0 440.3 2078.2 444.0 2084.3 447.9 C2090.4 451.7 2096.5 455.6 2102.6 459.5 C2108.7 463.4 2114.9 467.1 2120.9 471.2 C2127.2 475.4 2134.0 479.2 2139.2 484.5 C2144.5 489.7 2148.6 496.4 2152.5 502.8 C2156.4 509.1 2159.4 516.0 2162.5 522.8 C2166.1 530.4 2167.2 539.8 2172.5 546.1 C2176.1 550.2 2182.1 552.6 2185.8 556.6 C2197.1 568.8 2195.0 589.8 2199.1 606.5 C2203.3 623.1 2207.3 639.7 2210.8 656.5 C2214.5 674.1 2217.5 692.0 2220.8 709.7" stroke="#666666" stroke-width="11.5" stroke-dasharray="11 10.5"/>
</g>
<g font-size="90" fill="#000">
<text x="247.5" y="138.6" text-anchor="end">0</text>
<text x="292.5" y="322.3" text-anchor="end">-10</text>
<text x="292.5" y="505.9" text-anchor="end">-20</text>
<text x="292.5" y="689.6" text-anchor="end">-30</text>
<text x="292.5" y="873.2" text-anchor="end">-40</text>
<text x="292.5" y="1056.9" text-anchor="end">-50</text>
<text x="292.5" y="1240.6" text-anchor="end">-60</text>
<text x="292.5" y="1424.2" text-anchor="end">-70</text>
<text x="316.1" y="1510.5" text-anchor="middle">0</text>
<text x="542.6" y="1510.5" text-anchor="middle">10</text>
<text x="755.6" y="1510.5" text-anchor="middle">20</text>
<text x="968.6" y="1510.5" text-anchor="middle">30</text>
<text x="1181.6" y="1510.5" text-anchor="middle">40</text>
<text x="1394.6" y="1510.5" text-anchor="middle">50</text>
<text x="1607.5" y="1510.5" text-anchor="middle">60</text>
<text x="1820.5" y="1510.5" text-anchor="middle">70</text>
<text x="2033.5" y="1510.5" text-anchor="middle">80</text>
<text x="2246.5" y="1510.5" text-anchor="middle">90</text>
</g>
<text transform="translate(102.3,740) rotate(-90)" font-size="110" text-anchor="middle" fill="#000">dB</text>
<text x="1203" y="1648" font-size="97" font-style="italic" fill="#000">θ</text>
<text x="1268.5" y="1650" font-size="95" fill="#000">(°)</text>
<g font-size="74" font-weight="bold">
<text x="946.9" y="80" fill="#00ccff">12</text>
<text x="1138.8" y="80" fill="#b0b09a">13</text>
<text x="1287.4" y="80" fill="#009933">14</text>
<text x="1404.0" y="80" fill="#000">15</text>
<text x="1512.3" y="80" fill="#1a1aff">16</text>
<text x="1617.6" y="80" fill="#cc0000">17</text>
<text x="1714.3" y="80" fill="#ffee22">18</text>
<text x="1820.4" y="80" fill="#666">19</text>
<text x="1967.5" y="80" fill="#000">GHz</text>
</g>
</svg></body></html>
